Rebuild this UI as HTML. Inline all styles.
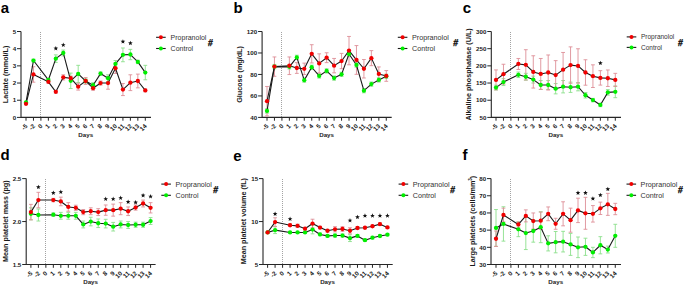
<!DOCTYPE html>
<html><head><meta charset="utf-8"><style>
html,body{margin:0;padding:0;background:#fff;}
body{width:685px;height:287px;overflow:hidden;font-family:"Liberation Sans", sans-serif;}
svg{display:block;}
</style></head><body>
<svg width="685" height="287" viewBox="0 0 685 287" font-family='"Liberation Sans", sans-serif'><g><text x="0.7" y="12.9" font-size="15" font-weight="bold" fill="#000">a</text><line x1="40.5" y1="32" x2="40.5" y2="117.4" stroke="#a3a3a3" stroke-width="1" stroke-dasharray="1,1"/><path d="M21,31.5V117.4H151" fill="none" stroke="#262626" stroke-width="1.1"/><line x1="17" y1="117.4" x2="21" y2="117.4" stroke="#262626" stroke-width="1"/><text x="16.1" y="119.6" font-size="6.2" font-weight="bold" text-anchor="end" fill="#1a1a1a">0</text><line x1="17" y1="100.22" x2="21" y2="100.22" stroke="#262626" stroke-width="1"/><text x="16.1" y="102.42" font-size="6.2" font-weight="bold" text-anchor="end" fill="#1a1a1a">1</text><line x1="17" y1="83.04" x2="21" y2="83.04" stroke="#262626" stroke-width="1"/><text x="16.1" y="85.24" font-size="6.2" font-weight="bold" text-anchor="end" fill="#1a1a1a">2</text><line x1="17" y1="65.86" x2="21" y2="65.86" stroke="#262626" stroke-width="1"/><text x="16.1" y="68.06" font-size="6.2" font-weight="bold" text-anchor="end" fill="#1a1a1a">3</text><line x1="17" y1="48.68" x2="21" y2="48.68" stroke="#262626" stroke-width="1"/><text x="16.1" y="50.88" font-size="6.2" font-weight="bold" text-anchor="end" fill="#1a1a1a">4</text><line x1="17" y1="31.5" x2="21" y2="31.5" stroke="#262626" stroke-width="1"/><text x="16.1" y="33.7" font-size="6.2" font-weight="bold" text-anchor="end" fill="#1a1a1a">5</text><line x1="26" y1="117.4" x2="26" y2="120.7" stroke="#262626" stroke-width="1"/><text x="28" y="126.6" font-size="6.3" font-weight="bold" text-anchor="end" fill="#1a1a1a" transform="rotate(-45 28 126.6)">-5</text><line x1="33.46" y1="117.4" x2="33.46" y2="120.7" stroke="#262626" stroke-width="1"/><text x="35.46" y="126.6" font-size="6.3" font-weight="bold" text-anchor="end" fill="#1a1a1a" transform="rotate(-45 35.46 126.6)">-2</text><line x1="40.91" y1="117.4" x2="40.91" y2="120.7" stroke="#262626" stroke-width="1"/><text x="42.91" y="126.6" font-size="6.3" font-weight="bold" text-anchor="end" fill="#1a1a1a" transform="rotate(-45 42.91 126.6)">0</text><line x1="48.37" y1="117.4" x2="48.37" y2="120.7" stroke="#262626" stroke-width="1"/><text x="50.37" y="126.6" font-size="6.3" font-weight="bold" text-anchor="end" fill="#1a1a1a" transform="rotate(-45 50.37 126.6)">1</text><line x1="55.82" y1="117.4" x2="55.82" y2="120.7" stroke="#262626" stroke-width="1"/><text x="57.82" y="126.6" font-size="6.3" font-weight="bold" text-anchor="end" fill="#1a1a1a" transform="rotate(-45 57.82 126.6)">2</text><line x1="63.28" y1="117.4" x2="63.28" y2="120.7" stroke="#262626" stroke-width="1"/><text x="65.28" y="126.6" font-size="6.3" font-weight="bold" text-anchor="end" fill="#1a1a1a" transform="rotate(-45 65.28 126.6)">3</text><line x1="70.74" y1="117.4" x2="70.74" y2="120.7" stroke="#262626" stroke-width="1"/><text x="72.74" y="126.6" font-size="6.3" font-weight="bold" text-anchor="end" fill="#1a1a1a" transform="rotate(-45 72.74 126.6)">4</text><line x1="78.19" y1="117.4" x2="78.19" y2="120.7" stroke="#262626" stroke-width="1"/><text x="80.19" y="126.6" font-size="6.3" font-weight="bold" text-anchor="end" fill="#1a1a1a" transform="rotate(-45 80.19 126.6)">5</text><line x1="85.65" y1="117.4" x2="85.65" y2="120.7" stroke="#262626" stroke-width="1"/><text x="87.65" y="126.6" font-size="6.3" font-weight="bold" text-anchor="end" fill="#1a1a1a" transform="rotate(-45 87.65 126.6)">6</text><line x1="93.1" y1="117.4" x2="93.1" y2="120.7" stroke="#262626" stroke-width="1"/><text x="95.1" y="126.6" font-size="6.3" font-weight="bold" text-anchor="end" fill="#1a1a1a" transform="rotate(-45 95.1 126.6)">7</text><line x1="100.56" y1="117.4" x2="100.56" y2="120.7" stroke="#262626" stroke-width="1"/><text x="102.56" y="126.6" font-size="6.3" font-weight="bold" text-anchor="end" fill="#1a1a1a" transform="rotate(-45 102.56 126.6)">8</text><line x1="108.02" y1="117.4" x2="108.02" y2="120.7" stroke="#262626" stroke-width="1"/><text x="110.02" y="126.6" font-size="6.3" font-weight="bold" text-anchor="end" fill="#1a1a1a" transform="rotate(-45 110.02 126.6)">9</text><line x1="115.47" y1="117.4" x2="115.47" y2="120.7" stroke="#262626" stroke-width="1"/><text x="117.47" y="126.6" font-size="6.3" font-weight="bold" text-anchor="end" fill="#1a1a1a" transform="rotate(-45 117.47 126.6)">10</text><line x1="122.93" y1="117.4" x2="122.93" y2="120.7" stroke="#262626" stroke-width="1"/><text x="124.93" y="126.6" font-size="6.3" font-weight="bold" text-anchor="end" fill="#1a1a1a" transform="rotate(-45 124.93 126.6)">11</text><line x1="130.38" y1="117.4" x2="130.38" y2="120.7" stroke="#262626" stroke-width="1"/><text x="132.38" y="126.6" font-size="6.3" font-weight="bold" text-anchor="end" fill="#1a1a1a" transform="rotate(-45 132.38 126.6)">12</text><line x1="137.84" y1="117.4" x2="137.84" y2="120.7" stroke="#262626" stroke-width="1"/><text x="139.84" y="126.6" font-size="6.3" font-weight="bold" text-anchor="end" fill="#1a1a1a" transform="rotate(-45 139.84 126.6)">13</text><line x1="145.3" y1="117.4" x2="145.3" y2="120.7" stroke="#262626" stroke-width="1"/><text x="147.3" y="126.6" font-size="6.3" font-weight="bold" text-anchor="end" fill="#1a1a1a" transform="rotate(-45 147.3 126.6)">14</text><text x="8.3" y="74.45" font-size="7.2" font-weight="bold" text-anchor="middle" fill="#1a1a1a" transform="rotate(-90 8.3 74.45)">Lactate (mmol/L)</text><text x="85.7" y="137.2" font-size="6.1" font-weight="bold" text-anchor="middle" fill="#1a1a1a" textLength="14.8" lengthAdjust="spacingAndGlyphs">Days</text><path d="M26,101.59V103.31M24.1,101.59H27.9M24.1,103.31H27.9" stroke="#8ce08c" stroke-width="0.9" fill="none"/><path d="M33.46,59.16V61.91M31.56,59.16H35.36M31.56,61.91H35.36" stroke="#8ce08c" stroke-width="0.9" fill="none"/><path d="M48.37,78.57V81.32M46.47,78.57H50.27M46.47,81.32H50.27" stroke="#8ce08c" stroke-width="0.9" fill="none"/><path d="M55.82,54.86V62.42M53.92,54.86H57.72M53.92,62.42H57.72" stroke="#8ce08c" stroke-width="0.9" fill="none"/><path d="M63.28,50.05V55.9M61.38,50.05H65.18M61.38,55.9H65.18" stroke="#8ce08c" stroke-width="0.9" fill="none"/><path d="M70.74,73.08V88.54M68.84,73.08H72.64M68.84,88.54H72.64" stroke="#8ce08c" stroke-width="0.9" fill="none"/><path d="M78.19,65.34V82.52M76.29,65.34H80.09M76.29,82.52H80.09" stroke="#8ce08c" stroke-width="0.9" fill="none"/><path d="M85.65,78.92V83.04M83.75,78.92H87.55M83.75,83.04H87.55" stroke="#8ce08c" stroke-width="0.9" fill="none"/><path d="M93.1,82.7V87.85M91.2,82.7H95M91.2,87.85H95" stroke="#8ce08c" stroke-width="0.9" fill="none"/><path d="M100.56,71.87V75.31M98.66,71.87H102.46M98.66,75.31H102.46" stroke="#8ce08c" stroke-width="0.9" fill="none"/><path d="M108.02,74.79V81.67M106.12,74.79H109.92M106.12,81.67H109.92" stroke="#8ce08c" stroke-width="0.9" fill="none"/><path d="M115.47,60.53V67.41M113.57,60.53H117.37M113.57,67.41H117.37" stroke="#8ce08c" stroke-width="0.9" fill="none"/><path d="M122.93,47.99V61.74M121.03,47.99H124.83M121.03,61.74H124.83" stroke="#8ce08c" stroke-width="0.9" fill="none"/><path d="M130.38,49.37V59.68M128.48,49.37H132.28M128.48,59.68H132.28" stroke="#8ce08c" stroke-width="0.9" fill="none"/><path d="M137.84,60.19V63.63M135.94,60.19H139.74M135.94,63.63H139.74" stroke="#8ce08c" stroke-width="0.9" fill="none"/><path d="M145.3,65.34V79.78M143.4,65.34H147.2M143.4,79.78H147.2" stroke="#8ce08c" stroke-width="0.9" fill="none"/><path d="M26,102.97V104.69M24.1,102.97H27.9M24.1,104.69H27.9" stroke="#de8f97" stroke-width="0.9" fill="none"/><path d="M33.46,66.72V82.18M31.56,66.72H35.36M31.56,82.18H35.36" stroke="#de8f97" stroke-width="0.9" fill="none"/><path d="M48.37,80.46V83.21M46.47,80.46H50.27M46.47,83.21H50.27" stroke="#de8f97" stroke-width="0.9" fill="none"/><path d="M55.82,90.43V93.18M53.92,90.43H57.72M53.92,93.18H57.72" stroke="#de8f97" stroke-width="0.9" fill="none"/><path d="M63.28,74.79V79.95M61.38,74.79H65.18M61.38,79.95H65.18" stroke="#de8f97" stroke-width="0.9" fill="none"/><path d="M70.74,76.17V80.29M68.84,76.17H72.64M68.84,80.29H72.64" stroke="#de8f97" stroke-width="0.9" fill="none"/><path d="M78.19,83.21V90.08M76.29,83.21H80.09M76.29,90.08H80.09" stroke="#de8f97" stroke-width="0.9" fill="none"/><path d="M85.65,77.54V84.41M83.75,77.54H87.55M83.75,84.41H87.55" stroke="#de8f97" stroke-width="0.9" fill="none"/><path d="M93.1,86.13V90.26M91.2,86.13H95M91.2,90.26H95" stroke="#de8f97" stroke-width="0.9" fill="none"/><path d="M100.56,80.98V85.1M98.66,80.98H102.46M98.66,85.1H102.46" stroke="#de8f97" stroke-width="0.9" fill="none"/><path d="M108.02,76.86V89.22M106.12,76.86H109.92M106.12,89.22H109.92" stroke="#de8f97" stroke-width="0.9" fill="none"/><path d="M115.47,63.11V73.42M113.57,63.11H117.37M113.57,73.42H117.37" stroke="#de8f97" stroke-width="0.9" fill="none"/><path d="M122.93,83.56V95.58M121.03,83.56H124.83M121.03,95.58H124.83" stroke="#de8f97" stroke-width="0.9" fill="none"/><path d="M130.38,74.79V90.6M128.48,74.79H132.28M128.48,90.6H132.28" stroke="#de8f97" stroke-width="0.9" fill="none"/><path d="M137.84,74.11V87.85M135.94,74.11H139.74M135.94,87.85H139.74" stroke="#de8f97" stroke-width="0.9" fill="none"/><path d="M145.3,89.05V91.8M143.4,89.05H147.2M143.4,91.8H147.2" stroke="#de8f97" stroke-width="0.9" fill="none"/><path d="M26,102.45 L33.46,60.53 L48.37,79.95 L55.82,58.64 L63.28,52.98 L70.74,80.81 L78.19,73.93 L85.65,80.98 L93.1,85.27 L100.56,73.59 L108.02,78.23 L115.47,63.97 L122.93,54.86 L130.38,54.52 L137.84,61.91 L145.3,72.56" fill="none" stroke="#1a1a1a" stroke-width="1.1" stroke-linejoin="round"/><path d="M26,103.83 L33.46,74.45 L48.37,81.84 L55.82,91.8 L63.28,77.37 L70.74,78.23 L78.19,86.65 L85.65,80.98 L93.1,88.19 L100.56,83.04 L108.02,83.04 L115.47,68.27 L122.93,89.57 L130.38,82.7 L137.84,80.98 L145.3,90.43" fill="none" stroke="#1a1a1a" stroke-width="1.1" stroke-linejoin="round"/><circle cx="26" cy="102.45" r="2.15" fill="#00ee00"/><circle cx="33.46" cy="60.53" r="2.15" fill="#00ee00"/><circle cx="48.37" cy="79.95" r="2.15" fill="#00ee00"/><circle cx="55.82" cy="58.64" r="2.15" fill="#00ee00"/><circle cx="63.28" cy="52.98" r="2.15" fill="#00ee00"/><circle cx="70.74" cy="80.81" r="2.15" fill="#00ee00"/><circle cx="78.19" cy="73.93" r="2.15" fill="#00ee00"/><circle cx="85.65" cy="80.98" r="2.15" fill="#00ee00"/><circle cx="93.1" cy="85.27" r="2.15" fill="#00ee00"/><circle cx="100.56" cy="73.59" r="2.15" fill="#00ee00"/><circle cx="108.02" cy="78.23" r="2.15" fill="#00ee00"/><circle cx="115.47" cy="63.97" r="2.15" fill="#00ee00"/><circle cx="122.93" cy="54.86" r="2.15" fill="#00ee00"/><circle cx="130.38" cy="54.52" r="2.15" fill="#00ee00"/><circle cx="137.84" cy="61.91" r="2.15" fill="#00ee00"/><circle cx="145.3" cy="72.56" r="2.15" fill="#00ee00"/><circle cx="26" cy="103.83" r="2.15" fill="#f00000"/><circle cx="33.46" cy="74.45" r="2.15" fill="#f00000"/><circle cx="48.37" cy="81.84" r="2.15" fill="#f00000"/><circle cx="55.82" cy="91.8" r="2.15" fill="#f00000"/><circle cx="63.28" cy="77.37" r="2.15" fill="#f00000"/><circle cx="70.74" cy="78.23" r="2.15" fill="#f00000"/><circle cx="78.19" cy="86.65" r="2.15" fill="#f00000"/><circle cx="85.65" cy="80.98" r="2.15" fill="#f00000"/><circle cx="93.1" cy="88.19" r="2.15" fill="#f00000"/><circle cx="100.56" cy="83.04" r="2.15" fill="#f00000"/><circle cx="108.02" cy="83.04" r="2.15" fill="#f00000"/><circle cx="115.47" cy="68.27" r="2.15" fill="#f00000"/><circle cx="122.93" cy="89.57" r="2.15" fill="#f00000"/><circle cx="130.38" cy="82.7" r="2.15" fill="#f00000"/><circle cx="137.84" cy="80.98" r="2.15" fill="#f00000"/><circle cx="145.3" cy="90.43" r="2.15" fill="#f00000"/><polygon points="55.82,45.95 56.44,47.55 58.15,47.64 56.82,48.72 57.26,50.38 55.82,49.45 54.38,50.38 54.83,48.72 53.49,47.64 55.21,47.55" fill="#111"/><polygon points="63.28,42.55 63.9,44.15 65.61,44.24 64.28,45.32 64.72,46.98 63.28,46.05 61.84,46.98 62.28,45.32 60.95,44.24 62.66,44.15" fill="#111"/><polygon points="122.93,39.15 123.55,40.75 125.26,40.84 123.93,41.92 124.37,43.58 122.93,42.65 121.49,43.58 121.93,41.92 120.6,40.84 122.31,40.75" fill="#111"/><polygon points="130.38,40.75 131,42.35 132.71,42.44 131.38,43.52 131.82,45.18 130.38,44.25 128.94,45.18 129.39,43.52 128.05,42.44 129.77,42.35" fill="#111"/><line x1="156.1" y1="37.3" x2="165.7" y2="37.3" stroke="#1a1a1a" stroke-width="1.1"/><circle cx="160.9" cy="37.3" r="2" fill="#f00000"/><text x="170.6" y="39.8" font-size="7.0" fill="#333">Propranolol</text><line x1="156.1" y1="48.5" x2="165.7" y2="48.5" stroke="#1a1a1a" stroke-width="1.1"/><circle cx="160.9" cy="48.5" r="2" fill="#00ee00"/><text x="170.6" y="51" font-size="7.0" fill="#333">Control</text><text transform="translate(207.7,45.9) scale(0.85,1) skewX(-6)" font-size="10.0" font-weight="bold" fill="#111" stroke="#111" stroke-width="0.35">#</text></g>
<g><text x="233.4" y="13.1" font-size="15" font-weight="bold" fill="#000">b</text><line x1="281.5" y1="32" x2="281.5" y2="117.4" stroke="#a3a3a3" stroke-width="1" stroke-dasharray="1,1"/><path d="M262.1,31.5V117.4H391.7" fill="none" stroke="#262626" stroke-width="1.1"/><line x1="258.1" y1="117.4" x2="262.1" y2="117.4" stroke="#262626" stroke-width="1"/><text x="257.2" y="119.6" font-size="6.2" font-weight="bold" text-anchor="end" fill="#1a1a1a">40</text><line x1="258.1" y1="95.93" x2="262.1" y2="95.93" stroke="#262626" stroke-width="1"/><text x="257.2" y="98.13" font-size="6.2" font-weight="bold" text-anchor="end" fill="#1a1a1a">60</text><line x1="258.1" y1="74.45" x2="262.1" y2="74.45" stroke="#262626" stroke-width="1"/><text x="257.2" y="76.65" font-size="6.2" font-weight="bold" text-anchor="end" fill="#1a1a1a">80</text><line x1="258.1" y1="52.98" x2="262.1" y2="52.98" stroke="#262626" stroke-width="1"/><text x="257.2" y="55.18" font-size="6.2" font-weight="bold" text-anchor="end" fill="#1a1a1a">100</text><line x1="258.1" y1="31.5" x2="262.1" y2="31.5" stroke="#262626" stroke-width="1"/><text x="257.2" y="33.7" font-size="6.2" font-weight="bold" text-anchor="end" fill="#1a1a1a">120</text><line x1="267" y1="117.4" x2="267" y2="120.7" stroke="#262626" stroke-width="1"/><text x="269" y="126.6" font-size="6.3" font-weight="bold" text-anchor="end" fill="#1a1a1a" transform="rotate(-45 269 126.6)">-5</text><line x1="274.45" y1="117.4" x2="274.45" y2="120.7" stroke="#262626" stroke-width="1"/><text x="276.45" y="126.6" font-size="6.3" font-weight="bold" text-anchor="end" fill="#1a1a1a" transform="rotate(-45 276.45 126.6)">-2</text><line x1="281.91" y1="117.4" x2="281.91" y2="120.7" stroke="#262626" stroke-width="1"/><text x="283.91" y="126.6" font-size="6.3" font-weight="bold" text-anchor="end" fill="#1a1a1a" transform="rotate(-45 283.91 126.6)">0</text><line x1="289.37" y1="117.4" x2="289.37" y2="120.7" stroke="#262626" stroke-width="1"/><text x="291.37" y="126.6" font-size="6.3" font-weight="bold" text-anchor="end" fill="#1a1a1a" transform="rotate(-45 291.37 126.6)">1</text><line x1="296.82" y1="117.4" x2="296.82" y2="120.7" stroke="#262626" stroke-width="1"/><text x="298.82" y="126.6" font-size="6.3" font-weight="bold" text-anchor="end" fill="#1a1a1a" transform="rotate(-45 298.82 126.6)">2</text><line x1="304.27" y1="117.4" x2="304.27" y2="120.7" stroke="#262626" stroke-width="1"/><text x="306.27" y="126.6" font-size="6.3" font-weight="bold" text-anchor="end" fill="#1a1a1a" transform="rotate(-45 306.27 126.6)">3</text><line x1="311.73" y1="117.4" x2="311.73" y2="120.7" stroke="#262626" stroke-width="1"/><text x="313.73" y="126.6" font-size="6.3" font-weight="bold" text-anchor="end" fill="#1a1a1a" transform="rotate(-45 313.73 126.6)">4</text><line x1="319.19" y1="117.4" x2="319.19" y2="120.7" stroke="#262626" stroke-width="1"/><text x="321.19" y="126.6" font-size="6.3" font-weight="bold" text-anchor="end" fill="#1a1a1a" transform="rotate(-45 321.19 126.6)">5</text><line x1="326.64" y1="117.4" x2="326.64" y2="120.7" stroke="#262626" stroke-width="1"/><text x="328.64" y="126.6" font-size="6.3" font-weight="bold" text-anchor="end" fill="#1a1a1a" transform="rotate(-45 328.64 126.6)">6</text><line x1="334.1" y1="117.4" x2="334.1" y2="120.7" stroke="#262626" stroke-width="1"/><text x="336.1" y="126.6" font-size="6.3" font-weight="bold" text-anchor="end" fill="#1a1a1a" transform="rotate(-45 336.1 126.6)">7</text><line x1="341.55" y1="117.4" x2="341.55" y2="120.7" stroke="#262626" stroke-width="1"/><text x="343.55" y="126.6" font-size="6.3" font-weight="bold" text-anchor="end" fill="#1a1a1a" transform="rotate(-45 343.55 126.6)">8</text><line x1="349" y1="117.4" x2="349" y2="120.7" stroke="#262626" stroke-width="1"/><text x="351" y="126.6" font-size="6.3" font-weight="bold" text-anchor="end" fill="#1a1a1a" transform="rotate(-45 351 126.6)">9</text><line x1="356.46" y1="117.4" x2="356.46" y2="120.7" stroke="#262626" stroke-width="1"/><text x="358.46" y="126.6" font-size="6.3" font-weight="bold" text-anchor="end" fill="#1a1a1a" transform="rotate(-45 358.46 126.6)">10</text><line x1="363.92" y1="117.4" x2="363.92" y2="120.7" stroke="#262626" stroke-width="1"/><text x="365.92" y="126.6" font-size="6.3" font-weight="bold" text-anchor="end" fill="#1a1a1a" transform="rotate(-45 365.92 126.6)">11</text><line x1="371.37" y1="117.4" x2="371.37" y2="120.7" stroke="#262626" stroke-width="1"/><text x="373.37" y="126.6" font-size="6.3" font-weight="bold" text-anchor="end" fill="#1a1a1a" transform="rotate(-45 373.37 126.6)">12</text><line x1="378.82" y1="117.4" x2="378.82" y2="120.7" stroke="#262626" stroke-width="1"/><text x="380.82" y="126.6" font-size="6.3" font-weight="bold" text-anchor="end" fill="#1a1a1a" transform="rotate(-45 380.82 126.6)">13</text><line x1="386.28" y1="117.4" x2="386.28" y2="120.7" stroke="#262626" stroke-width="1"/><text x="388.28" y="126.6" font-size="6.3" font-weight="bold" text-anchor="end" fill="#1a1a1a" transform="rotate(-45 388.28 126.6)">14</text><text x="242.1" y="74.45" font-size="7.2" font-weight="bold" text-anchor="middle" fill="#1a1a1a" transform="rotate(-90 242.1 74.45)">Glucose (mg/dL)</text><text x="326.6" y="137.2" font-size="6.1" font-weight="bold" text-anchor="middle" fill="#1a1a1a" textLength="14.8" lengthAdjust="spacingAndGlyphs">Days</text><path d="M267,108.81V113.11M265.1,108.81H268.9M265.1,113.11H268.9" stroke="#8ce08c" stroke-width="0.9" fill="none"/><path d="M274.45,64.46V68.76M272.56,64.46H276.35M272.56,68.76H276.35" stroke="#8ce08c" stroke-width="0.9" fill="none"/><path d="M289.37,64.68V68.97M287.47,64.68H291.26M287.47,68.97H291.26" stroke="#8ce08c" stroke-width="0.9" fill="none"/><path d="M296.82,55.23V59.52M294.92,55.23H298.72M294.92,59.52H298.72" stroke="#8ce08c" stroke-width="0.9" fill="none"/><path d="M304.27,77.99V82.29M302.38,77.99H306.17M302.38,82.29H306.17" stroke="#8ce08c" stroke-width="0.9" fill="none"/><path d="M311.73,65.11V69.4M309.83,65.11H313.63M309.83,69.4H313.63" stroke="#8ce08c" stroke-width="0.9" fill="none"/><path d="M319.19,73.81V78.1M317.29,73.81H321.08M317.29,78.1H321.08" stroke="#8ce08c" stroke-width="0.9" fill="none"/><path d="M326.64,68.76V73.05M324.74,68.76H328.54M324.74,73.05H328.54" stroke="#8ce08c" stroke-width="0.9" fill="none"/><path d="M334.1,75.95V80.25M332.2,75.95H336M332.2,80.25H336" stroke="#8ce08c" stroke-width="0.9" fill="none"/><path d="M341.55,72.2V76.49M339.65,72.2H343.45M339.65,76.49H343.45" stroke="#8ce08c" stroke-width="0.9" fill="none"/><path d="M349,51.9V56.2M347.11,51.9H350.9M347.11,56.2H350.9" stroke="#8ce08c" stroke-width="0.9" fill="none"/><path d="M356.46,62.85V67.15M354.56,62.85H358.36M354.56,67.15H358.36" stroke="#8ce08c" stroke-width="0.9" fill="none"/><path d="M363.92,88.52V92.81M362.02,88.52H365.81M362.02,92.81H365.81" stroke="#8ce08c" stroke-width="0.9" fill="none"/><path d="M371.37,81.97V86.26M369.47,81.97H373.27M369.47,86.26H373.27" stroke="#8ce08c" stroke-width="0.9" fill="none"/><path d="M378.82,77.78V82.07M376.93,77.78H380.72M376.93,82.07H380.72" stroke="#8ce08c" stroke-width="0.9" fill="none"/><path d="M386.28,74.13V78.42M384.38,74.13H388.18M384.38,78.42H388.18" stroke="#8ce08c" stroke-width="0.9" fill="none"/><path d="M267,86.48V115.9M265.1,86.48H268.9M265.1,115.9H268.9" stroke="#de8f97" stroke-width="0.9" fill="none"/><path d="M274.45,56.95V76.28M272.56,56.95H276.35M272.56,76.28H276.35" stroke="#de8f97" stroke-width="0.9" fill="none"/><path d="M289.37,56.95V74.56M287.47,56.95H291.26M287.47,74.56H291.26" stroke="#de8f97" stroke-width="0.9" fill="none"/><path d="M296.82,62.64V73.38M294.92,62.64H298.72M294.92,73.38H298.72" stroke="#de8f97" stroke-width="0.9" fill="none"/><path d="M304.27,63.12V74.5M302.38,63.12H306.17M302.38,74.5H306.17" stroke="#de8f97" stroke-width="0.9" fill="none"/><path d="M311.73,44.71V62.96M309.83,44.71H313.63M309.83,62.96H313.63" stroke="#de8f97" stroke-width="0.9" fill="none"/><path d="M319.19,53.83V72.95M317.29,53.83H321.08M317.29,72.95H321.08" stroke="#de8f97" stroke-width="0.9" fill="none"/><path d="M326.64,52.76V62.64M324.74,52.76H328.54M324.74,62.64H328.54" stroke="#de8f97" stroke-width="0.9" fill="none"/><path d="M334.1,58.45V72.84M332.2,58.45H336M332.2,72.84H336" stroke="#de8f97" stroke-width="0.9" fill="none"/><path d="M341.55,53.4V68.65M339.65,53.4H343.45M339.65,68.65H343.45" stroke="#de8f97" stroke-width="0.9" fill="none"/><path d="M349,36.44V64.79M347.11,36.44H350.9M347.11,64.79H350.9" stroke="#de8f97" stroke-width="0.9" fill="none"/><path d="M356.46,45.57V74.34M354.56,45.57H358.36M354.56,74.34H358.36" stroke="#de8f97" stroke-width="0.9" fill="none"/><path d="M363.92,59.52V77.99M362.02,59.52H365.81M362.02,77.99H365.81" stroke="#de8f97" stroke-width="0.9" fill="none"/><path d="M371.37,50.61V65.65M369.47,50.61H373.27M369.47,65.65H373.27" stroke="#de8f97" stroke-width="0.9" fill="none"/><path d="M378.82,66.93V80.89M376.93,66.93H380.72M376.93,80.89H380.72" stroke="#de8f97" stroke-width="0.9" fill="none"/><path d="M386.28,70.58V81.32M384.38,70.58H388.18M384.38,81.32H388.18" stroke="#de8f97" stroke-width="0.9" fill="none"/><path d="M267,110.96 L274.45,66.61 L289.37,66.83 L296.82,57.38 L304.27,80.14 L311.73,67.26 L319.19,75.95 L326.64,70.91 L334.1,78.1 L341.55,74.34 L349,54.05 L356.46,65 L363.92,90.66 L371.37,84.11 L378.82,79.93 L386.28,76.28" fill="none" stroke="#1a1a1a" stroke-width="1.1" stroke-linejoin="round"/><path d="M267,101.19 L274.45,66.61 L289.37,65.75 L296.82,68.01 L304.27,68.81 L311.73,53.83 L319.19,63.39 L326.64,57.7 L334.1,65.65 L341.55,61.03 L349,50.61 L356.46,59.95 L363.92,68.76 L371.37,58.13 L378.82,73.91 L386.28,75.95" fill="none" stroke="#1a1a1a" stroke-width="1.1" stroke-linejoin="round"/><circle cx="267" cy="110.96" r="2.15" fill="#00ee00"/><circle cx="274.45" cy="66.61" r="2.15" fill="#00ee00"/><circle cx="289.37" cy="66.83" r="2.15" fill="#00ee00"/><circle cx="296.82" cy="57.38" r="2.15" fill="#00ee00"/><circle cx="304.27" cy="80.14" r="2.15" fill="#00ee00"/><circle cx="311.73" cy="67.26" r="2.15" fill="#00ee00"/><circle cx="319.19" cy="75.95" r="2.15" fill="#00ee00"/><circle cx="326.64" cy="70.91" r="2.15" fill="#00ee00"/><circle cx="334.1" cy="78.1" r="2.15" fill="#00ee00"/><circle cx="341.55" cy="74.34" r="2.15" fill="#00ee00"/><circle cx="349" cy="54.05" r="2.15" fill="#00ee00"/><circle cx="356.46" cy="65" r="2.15" fill="#00ee00"/><circle cx="363.92" cy="90.66" r="2.15" fill="#00ee00"/><circle cx="371.37" cy="84.11" r="2.15" fill="#00ee00"/><circle cx="378.82" cy="79.93" r="2.15" fill="#00ee00"/><circle cx="386.28" cy="76.28" r="2.15" fill="#00ee00"/><circle cx="267" cy="101.19" r="2.15" fill="#f00000"/><circle cx="274.45" cy="66.61" r="2.15" fill="#f00000"/><circle cx="289.37" cy="65.75" r="2.15" fill="#f00000"/><circle cx="296.82" cy="68.01" r="2.15" fill="#f00000"/><circle cx="304.27" cy="68.81" r="2.15" fill="#f00000"/><circle cx="311.73" cy="53.83" r="2.15" fill="#f00000"/><circle cx="319.19" cy="63.39" r="2.15" fill="#f00000"/><circle cx="326.64" cy="57.7" r="2.15" fill="#f00000"/><circle cx="334.1" cy="65.65" r="2.15" fill="#f00000"/><circle cx="341.55" cy="61.03" r="2.15" fill="#f00000"/><circle cx="349" cy="50.61" r="2.15" fill="#f00000"/><circle cx="356.46" cy="59.95" r="2.15" fill="#f00000"/><circle cx="363.92" cy="68.76" r="2.15" fill="#f00000"/><circle cx="371.37" cy="58.13" r="2.15" fill="#f00000"/><circle cx="378.82" cy="73.91" r="2.15" fill="#f00000"/><circle cx="386.28" cy="75.95" r="2.15" fill="#f00000"/><line x1="397.8" y1="37.3" x2="407.4" y2="37.3" stroke="#1a1a1a" stroke-width="1.1"/><circle cx="402.6" cy="37.3" r="2" fill="#f00000"/><text x="412" y="39.8" font-size="7.2" fill="#333">Propranolol</text><line x1="397.8" y1="48.5" x2="407.4" y2="48.5" stroke="#1a1a1a" stroke-width="1.1"/><circle cx="402.6" cy="48.5" r="2" fill="#00ee00"/><text x="412" y="51" font-size="7.2" fill="#333">Control</text><text transform="translate(453,45.7) scale(0.85,1) skewX(-6)" font-size="10.2" font-weight="bold" fill="#111" stroke="#111" stroke-width="0.35">#</text></g>
<g><text x="462.8" y="13.1" font-size="15" font-weight="bold" fill="#000">c</text><line x1="510.5" y1="32" x2="510.5" y2="117.4" stroke="#a3a3a3" stroke-width="1" stroke-dasharray="1,1"/><path d="M491.3,31.5V117.4H621" fill="none" stroke="#262626" stroke-width="1.1"/><line x1="487.3" y1="117.4" x2="491.3" y2="117.4" stroke="#262626" stroke-width="1"/><text x="486.4" y="119.6" font-size="6.2" font-weight="bold" text-anchor="end" fill="#1a1a1a">50</text><line x1="487.3" y1="100.22" x2="491.3" y2="100.22" stroke="#262626" stroke-width="1"/><text x="486.4" y="102.42" font-size="6.2" font-weight="bold" text-anchor="end" fill="#1a1a1a">100</text><line x1="487.3" y1="83.04" x2="491.3" y2="83.04" stroke="#262626" stroke-width="1"/><text x="486.4" y="85.24" font-size="6.2" font-weight="bold" text-anchor="end" fill="#1a1a1a">150</text><line x1="487.3" y1="65.86" x2="491.3" y2="65.86" stroke="#262626" stroke-width="1"/><text x="486.4" y="68.06" font-size="6.2" font-weight="bold" text-anchor="end" fill="#1a1a1a">200</text><line x1="487.3" y1="48.68" x2="491.3" y2="48.68" stroke="#262626" stroke-width="1"/><text x="486.4" y="50.88" font-size="6.2" font-weight="bold" text-anchor="end" fill="#1a1a1a">250</text><line x1="487.3" y1="31.5" x2="491.3" y2="31.5" stroke="#262626" stroke-width="1"/><text x="486.4" y="33.7" font-size="6.2" font-weight="bold" text-anchor="end" fill="#1a1a1a">300</text><line x1="496" y1="117.4" x2="496" y2="120.7" stroke="#262626" stroke-width="1"/><text x="498" y="126.6" font-size="6.3" font-weight="bold" text-anchor="end" fill="#1a1a1a" transform="rotate(-45 498 126.6)">-5</text><line x1="503.46" y1="117.4" x2="503.46" y2="120.7" stroke="#262626" stroke-width="1"/><text x="505.46" y="126.6" font-size="6.3" font-weight="bold" text-anchor="end" fill="#1a1a1a" transform="rotate(-45 505.46 126.6)">-2</text><line x1="510.91" y1="117.4" x2="510.91" y2="120.7" stroke="#262626" stroke-width="1"/><text x="512.91" y="126.6" font-size="6.3" font-weight="bold" text-anchor="end" fill="#1a1a1a" transform="rotate(-45 512.91 126.6)">0</text><line x1="518.37" y1="117.4" x2="518.37" y2="120.7" stroke="#262626" stroke-width="1"/><text x="520.37" y="126.6" font-size="6.3" font-weight="bold" text-anchor="end" fill="#1a1a1a" transform="rotate(-45 520.37 126.6)">1</text><line x1="525.82" y1="117.4" x2="525.82" y2="120.7" stroke="#262626" stroke-width="1"/><text x="527.82" y="126.6" font-size="6.3" font-weight="bold" text-anchor="end" fill="#1a1a1a" transform="rotate(-45 527.82 126.6)">2</text><line x1="533.28" y1="117.4" x2="533.28" y2="120.7" stroke="#262626" stroke-width="1"/><text x="535.28" y="126.6" font-size="6.3" font-weight="bold" text-anchor="end" fill="#1a1a1a" transform="rotate(-45 535.28 126.6)">3</text><line x1="540.74" y1="117.4" x2="540.74" y2="120.7" stroke="#262626" stroke-width="1"/><text x="542.74" y="126.6" font-size="6.3" font-weight="bold" text-anchor="end" fill="#1a1a1a" transform="rotate(-45 542.74 126.6)">4</text><line x1="548.19" y1="117.4" x2="548.19" y2="120.7" stroke="#262626" stroke-width="1"/><text x="550.19" y="126.6" font-size="6.3" font-weight="bold" text-anchor="end" fill="#1a1a1a" transform="rotate(-45 550.19 126.6)">5</text><line x1="555.65" y1="117.4" x2="555.65" y2="120.7" stroke="#262626" stroke-width="1"/><text x="557.65" y="126.6" font-size="6.3" font-weight="bold" text-anchor="end" fill="#1a1a1a" transform="rotate(-45 557.65 126.6)">6</text><line x1="563.1" y1="117.4" x2="563.1" y2="120.7" stroke="#262626" stroke-width="1"/><text x="565.1" y="126.6" font-size="6.3" font-weight="bold" text-anchor="end" fill="#1a1a1a" transform="rotate(-45 565.1 126.6)">7</text><line x1="570.56" y1="117.4" x2="570.56" y2="120.7" stroke="#262626" stroke-width="1"/><text x="572.56" y="126.6" font-size="6.3" font-weight="bold" text-anchor="end" fill="#1a1a1a" transform="rotate(-45 572.56 126.6)">8</text><line x1="578.02" y1="117.4" x2="578.02" y2="120.7" stroke="#262626" stroke-width="1"/><text x="580.02" y="126.6" font-size="6.3" font-weight="bold" text-anchor="end" fill="#1a1a1a" transform="rotate(-45 580.02 126.6)">9</text><line x1="585.47" y1="117.4" x2="585.47" y2="120.7" stroke="#262626" stroke-width="1"/><text x="587.47" y="126.6" font-size="6.3" font-weight="bold" text-anchor="end" fill="#1a1a1a" transform="rotate(-45 587.47 126.6)">10</text><line x1="592.93" y1="117.4" x2="592.93" y2="120.7" stroke="#262626" stroke-width="1"/><text x="594.93" y="126.6" font-size="6.3" font-weight="bold" text-anchor="end" fill="#1a1a1a" transform="rotate(-45 594.93 126.6)">11</text><line x1="600.38" y1="117.4" x2="600.38" y2="120.7" stroke="#262626" stroke-width="1"/><text x="602.38" y="126.6" font-size="6.3" font-weight="bold" text-anchor="end" fill="#1a1a1a" transform="rotate(-45 602.38 126.6)">12</text><line x1="607.84" y1="117.4" x2="607.84" y2="120.7" stroke="#262626" stroke-width="1"/><text x="609.84" y="126.6" font-size="6.3" font-weight="bold" text-anchor="end" fill="#1a1a1a" transform="rotate(-45 609.84 126.6)">13</text><line x1="615.3" y1="117.4" x2="615.3" y2="120.7" stroke="#262626" stroke-width="1"/><text x="617.3" y="126.6" font-size="6.3" font-weight="bold" text-anchor="end" fill="#1a1a1a" transform="rotate(-45 617.3 126.6)">14</text><text x="471" y="74.45" font-size="7.2" font-weight="bold" text-anchor="middle" fill="#1a1a1a" transform="rotate(-90 471 74.45)">Alkaline phosphatase (U/L)</text><text x="555.85" y="137.2" font-size="6.1" font-weight="bold" text-anchor="middle" fill="#1a1a1a" textLength="14.8" lengthAdjust="spacingAndGlyphs">Days</text><path d="M496,85.17V89.98M494.1,85.17H497.9M494.1,89.98H497.9" stroke="#8ce08c" stroke-width="0.9" fill="none"/><path d="M503.46,78.68V85.55M501.56,78.68H505.36M501.56,85.55H505.36" stroke="#8ce08c" stroke-width="0.9" fill="none"/><path d="M518.37,72.04V77.54M516.47,72.04H520.27M516.47,77.54H520.27" stroke="#8ce08c" stroke-width="0.9" fill="none"/><path d="M525.82,73.32V80.19M523.92,73.32H527.72M523.92,80.19H527.72" stroke="#8ce08c" stroke-width="0.9" fill="none"/><path d="M533.28,76.17V83.04M531.38,76.17H535.18M531.38,83.04H535.18" stroke="#8ce08c" stroke-width="0.9" fill="none"/><path d="M540.74,80.53V89.47M538.84,80.53H542.64M538.84,89.47H542.64" stroke="#8ce08c" stroke-width="0.9" fill="none"/><path d="M548.19,80.53V89.47M546.29,80.53H550.09M546.29,89.47H550.09" stroke="#8ce08c" stroke-width="0.9" fill="none"/><path d="M555.65,83.56V93.86M553.75,83.56H557.55M553.75,93.86H557.55" stroke="#8ce08c" stroke-width="0.9" fill="none"/><path d="M563.1,80.53V92.9M561.2,80.53H565M561.2,92.9H565" stroke="#8ce08c" stroke-width="0.9" fill="none"/><path d="M570.56,82.11V92.42M568.66,82.11H572.46M568.66,92.42H572.46" stroke="#8ce08c" stroke-width="0.9" fill="none"/><path d="M578.02,82.59V90.84M576.12,82.59H579.92M576.12,90.84H579.92" stroke="#8ce08c" stroke-width="0.9" fill="none"/><path d="M585.47,92.49V97.99M583.57,92.49H587.37M583.57,97.99H587.37" stroke="#8ce08c" stroke-width="0.9" fill="none"/><path d="M592.93,98.36V101.8M591.03,98.36H594.83M591.03,101.8H594.83" stroke="#8ce08c" stroke-width="0.9" fill="none"/><path d="M600.38,103.21V106.65M598.48,103.21H602.28M598.48,106.65H602.28" stroke="#8ce08c" stroke-width="0.9" fill="none"/><path d="M607.84,89.64V95.13M605.94,89.64H609.74M605.94,95.13H609.74" stroke="#8ce08c" stroke-width="0.9" fill="none"/><path d="M615.3,85.99V97.68M613.4,85.99H617.2M613.4,97.68H617.2" stroke="#8ce08c" stroke-width="0.9" fill="none"/><path d="M496,69.91V89.84M494.1,69.91H497.9M494.1,89.84H497.9" stroke="#de8f97" stroke-width="0.9" fill="none"/><path d="M503.46,64.25V84.17M501.56,64.25H505.36M501.56,84.17H505.36" stroke="#de8f97" stroke-width="0.9" fill="none"/><path d="M518.37,58.47V69.47M516.47,58.47H520.27M516.47,69.47H520.27" stroke="#de8f97" stroke-width="0.9" fill="none"/><path d="M525.82,49.71V79.95M523.92,49.71H527.72M523.92,79.95H527.72" stroke="#de8f97" stroke-width="0.9" fill="none"/><path d="M533.28,55.76V88.06M531.38,55.76H535.18M531.38,88.06H535.18" stroke="#de8f97" stroke-width="0.9" fill="none"/><path d="M540.74,58.47V89.4M538.84,58.47H542.64M538.84,89.4H542.64" stroke="#de8f97" stroke-width="0.9" fill="none"/><path d="M548.19,54.97V90.02M546.29,54.97H550.09M546.29,90.02H550.09" stroke="#de8f97" stroke-width="0.9" fill="none"/><path d="M555.65,60.64V89.5M553.75,60.64H557.55M553.75,89.5H557.55" stroke="#de8f97" stroke-width="0.9" fill="none"/><path d="M563.1,52.46V86.82M561.2,52.46H565M561.2,86.82H565" stroke="#de8f97" stroke-width="0.9" fill="none"/><path d="M570.56,46.89V83.31M568.66,46.89H572.46M568.66,83.31H572.46" stroke="#de8f97" stroke-width="0.9" fill="none"/><path d="M578.02,48.78V83.14M576.12,48.78H579.92M576.12,83.14H579.92" stroke="#de8f97" stroke-width="0.9" fill="none"/><path d="M585.47,59.78V85.2M583.57,59.78H587.37M583.57,85.2H587.37" stroke="#de8f97" stroke-width="0.9" fill="none"/><path d="M592.93,64.83V87.51M591.03,64.83H594.83M591.03,87.51H594.83" stroke="#de8f97" stroke-width="0.9" fill="none"/><path d="M600.38,70.67V85.1M598.48,70.67H602.28M598.48,85.1H602.28" stroke="#de8f97" stroke-width="0.9" fill="none"/><path d="M607.84,69.98V86.48M605.94,69.98H609.74M605.94,86.48H609.74" stroke="#de8f97" stroke-width="0.9" fill="none"/><path d="M615.3,73.35V86.41M613.4,73.35H617.2M613.4,86.41H617.2" stroke="#de8f97" stroke-width="0.9" fill="none"/><path d="M496,87.58 L503.46,82.11 L518.37,74.79 L525.82,76.75 L533.28,79.6 L540.74,85 L548.19,85 L555.65,88.71 L563.1,86.72 L570.56,87.27 L578.02,86.72 L585.47,95.24 L592.93,100.08 L600.38,104.93 L607.84,92.39 L615.3,91.84" fill="none" stroke="#1a1a1a" stroke-width="1.1" stroke-linejoin="round"/><path d="M496,79.88 L503.46,74.21 L518.37,63.97 L525.82,64.83 L533.28,71.91 L540.74,73.93 L548.19,72.49 L555.65,75.07 L563.1,69.64 L570.56,65.1 L578.02,65.96 L585.47,72.49 L592.93,76.17 L600.38,77.89 L607.84,78.23 L615.3,79.88" fill="none" stroke="#1a1a1a" stroke-width="1.1" stroke-linejoin="round"/><circle cx="496" cy="87.58" r="2.15" fill="#00ee00"/><circle cx="503.46" cy="82.11" r="2.15" fill="#00ee00"/><circle cx="518.37" cy="74.79" r="2.15" fill="#00ee00"/><circle cx="525.82" cy="76.75" r="2.15" fill="#00ee00"/><circle cx="533.28" cy="79.6" r="2.15" fill="#00ee00"/><circle cx="540.74" cy="85" r="2.15" fill="#00ee00"/><circle cx="548.19" cy="85" r="2.15" fill="#00ee00"/><circle cx="555.65" cy="88.71" r="2.15" fill="#00ee00"/><circle cx="563.1" cy="86.72" r="2.15" fill="#00ee00"/><circle cx="570.56" cy="87.27" r="2.15" fill="#00ee00"/><circle cx="578.02" cy="86.72" r="2.15" fill="#00ee00"/><circle cx="585.47" cy="95.24" r="2.15" fill="#00ee00"/><circle cx="592.93" cy="100.08" r="2.15" fill="#00ee00"/><circle cx="600.38" cy="104.93" r="2.15" fill="#00ee00"/><circle cx="607.84" cy="92.39" r="2.15" fill="#00ee00"/><circle cx="615.3" cy="91.84" r="2.15" fill="#00ee00"/><circle cx="496" cy="79.88" r="2.15" fill="#f00000"/><circle cx="503.46" cy="74.21" r="2.15" fill="#f00000"/><circle cx="518.37" cy="63.97" r="2.15" fill="#f00000"/><circle cx="525.82" cy="64.83" r="2.15" fill="#f00000"/><circle cx="533.28" cy="71.91" r="2.15" fill="#f00000"/><circle cx="540.74" cy="73.93" r="2.15" fill="#f00000"/><circle cx="548.19" cy="72.49" r="2.15" fill="#f00000"/><circle cx="555.65" cy="75.07" r="2.15" fill="#f00000"/><circle cx="563.1" cy="69.64" r="2.15" fill="#f00000"/><circle cx="570.56" cy="65.1" r="2.15" fill="#f00000"/><circle cx="578.02" cy="65.96" r="2.15" fill="#f00000"/><circle cx="585.47" cy="72.49" r="2.15" fill="#f00000"/><circle cx="592.93" cy="76.17" r="2.15" fill="#f00000"/><circle cx="600.38" cy="77.89" r="2.15" fill="#f00000"/><circle cx="607.84" cy="78.23" r="2.15" fill="#f00000"/><circle cx="615.3" cy="79.88" r="2.15" fill="#f00000"/><polygon points="600.38,60.65 601,62.25 602.71,62.34 601.38,63.42 601.82,65.08 600.38,64.15 598.94,65.08 599.39,63.42 598.05,62.34 599.77,62.25" fill="#111"/><line x1="626.7" y1="36.9" x2="636.3" y2="36.9" stroke="#1a1a1a" stroke-width="1.1"/><circle cx="631.5" cy="36.9" r="2" fill="#f00000"/><text x="641" y="39.4" font-size="6.5" fill="#333">Propranolol</text><line x1="626.7" y1="47.4" x2="636.3" y2="47.4" stroke="#1a1a1a" stroke-width="1.1"/><circle cx="631.5" cy="47.4" r="2" fill="#00ee00"/><text x="641" y="49.9" font-size="6.5" fill="#333">Control</text><text transform="translate(677.7,45.7) scale(0.85,1) skewX(-6)" font-size="10.2" font-weight="bold" fill="#111" stroke="#111" stroke-width="0.35">#</text></g>
<g><text x="0.4" y="160.2" font-size="15" font-weight="bold" fill="#000">d</text><line x1="45.5" y1="179" x2="45.5" y2="264.5" stroke="#a3a3a3" stroke-width="1" stroke-dasharray="1,1"/><path d="M26.2,178.6V264.5H155.6" fill="none" stroke="#262626" stroke-width="1.1"/><line x1="22.2" y1="264.5" x2="26.2" y2="264.5" stroke="#262626" stroke-width="1"/><text x="21.3" y="266.7" font-size="6.2" font-weight="bold" text-anchor="end" fill="#1a1a1a">1.5</text><line x1="22.2" y1="221.55" x2="26.2" y2="221.55" stroke="#262626" stroke-width="1"/><text x="21.3" y="223.75" font-size="6.2" font-weight="bold" text-anchor="end" fill="#1a1a1a">2.0</text><line x1="22.2" y1="178.6" x2="26.2" y2="178.6" stroke="#262626" stroke-width="1"/><text x="21.3" y="180.8" font-size="6.2" font-weight="bold" text-anchor="end" fill="#1a1a1a">2.5</text><line x1="30.9" y1="264.5" x2="30.9" y2="267.8" stroke="#262626" stroke-width="1"/><text x="32.9" y="273.7" font-size="6.3" font-weight="bold" text-anchor="end" fill="#1a1a1a" transform="rotate(-45 32.9 273.7)">-5</text><line x1="38.38" y1="264.5" x2="38.38" y2="267.8" stroke="#262626" stroke-width="1"/><text x="40.38" y="273.7" font-size="6.3" font-weight="bold" text-anchor="end" fill="#1a1a1a" transform="rotate(-45 40.38 273.7)">-2</text><line x1="45.86" y1="264.5" x2="45.86" y2="267.8" stroke="#262626" stroke-width="1"/><text x="47.86" y="273.7" font-size="6.3" font-weight="bold" text-anchor="end" fill="#1a1a1a" transform="rotate(-45 47.86 273.7)">0</text><line x1="53.34" y1="264.5" x2="53.34" y2="267.8" stroke="#262626" stroke-width="1"/><text x="55.34" y="273.7" font-size="6.3" font-weight="bold" text-anchor="end" fill="#1a1a1a" transform="rotate(-45 55.34 273.7)">1</text><line x1="60.82" y1="264.5" x2="60.82" y2="267.8" stroke="#262626" stroke-width="1"/><text x="62.82" y="273.7" font-size="6.3" font-weight="bold" text-anchor="end" fill="#1a1a1a" transform="rotate(-45 62.82 273.7)">2</text><line x1="68.3" y1="264.5" x2="68.3" y2="267.8" stroke="#262626" stroke-width="1"/><text x="70.3" y="273.7" font-size="6.3" font-weight="bold" text-anchor="end" fill="#1a1a1a" transform="rotate(-45 70.3 273.7)">3</text><line x1="75.78" y1="264.5" x2="75.78" y2="267.8" stroke="#262626" stroke-width="1"/><text x="77.78" y="273.7" font-size="6.3" font-weight="bold" text-anchor="end" fill="#1a1a1a" transform="rotate(-45 77.78 273.7)">4</text><line x1="83.26" y1="264.5" x2="83.26" y2="267.8" stroke="#262626" stroke-width="1"/><text x="85.26" y="273.7" font-size="6.3" font-weight="bold" text-anchor="end" fill="#1a1a1a" transform="rotate(-45 85.26 273.7)">5</text><line x1="90.74" y1="264.5" x2="90.74" y2="267.8" stroke="#262626" stroke-width="1"/><text x="92.74" y="273.7" font-size="6.3" font-weight="bold" text-anchor="end" fill="#1a1a1a" transform="rotate(-45 92.74 273.7)">6</text><line x1="98.22" y1="264.5" x2="98.22" y2="267.8" stroke="#262626" stroke-width="1"/><text x="100.22" y="273.7" font-size="6.3" font-weight="bold" text-anchor="end" fill="#1a1a1a" transform="rotate(-45 100.22 273.7)">7</text><line x1="105.7" y1="264.5" x2="105.7" y2="267.8" stroke="#262626" stroke-width="1"/><text x="107.7" y="273.7" font-size="6.3" font-weight="bold" text-anchor="end" fill="#1a1a1a" transform="rotate(-45 107.7 273.7)">8</text><line x1="113.18" y1="264.5" x2="113.18" y2="267.8" stroke="#262626" stroke-width="1"/><text x="115.18" y="273.7" font-size="6.3" font-weight="bold" text-anchor="end" fill="#1a1a1a" transform="rotate(-45 115.18 273.7)">9</text><line x1="120.66" y1="264.5" x2="120.66" y2="267.8" stroke="#262626" stroke-width="1"/><text x="122.66" y="273.7" font-size="6.3" font-weight="bold" text-anchor="end" fill="#1a1a1a" transform="rotate(-45 122.66 273.7)">10</text><line x1="128.14" y1="264.5" x2="128.14" y2="267.8" stroke="#262626" stroke-width="1"/><text x="130.14" y="273.7" font-size="6.3" font-weight="bold" text-anchor="end" fill="#1a1a1a" transform="rotate(-45 130.14 273.7)">11</text><line x1="135.62" y1="264.5" x2="135.62" y2="267.8" stroke="#262626" stroke-width="1"/><text x="137.62" y="273.7" font-size="6.3" font-weight="bold" text-anchor="end" fill="#1a1a1a" transform="rotate(-45 137.62 273.7)">12</text><line x1="143.1" y1="264.5" x2="143.1" y2="267.8" stroke="#262626" stroke-width="1"/><text x="145.1" y="273.7" font-size="6.3" font-weight="bold" text-anchor="end" fill="#1a1a1a" transform="rotate(-45 145.1 273.7)">13</text><line x1="150.58" y1="264.5" x2="150.58" y2="267.8" stroke="#262626" stroke-width="1"/><text x="152.58" y="273.7" font-size="6.3" font-weight="bold" text-anchor="end" fill="#1a1a1a" transform="rotate(-45 152.58 273.7)">14</text><text x="8.2" y="221.15" font-size="7.2" font-weight="bold" text-anchor="middle" fill="#1a1a1a" transform="rotate(-90 8.2 221.15)">Mean platelet mass (pg)</text><text x="90.6" y="284.3" font-size="6.1" font-weight="bold" text-anchor="middle" fill="#1a1a1a" textLength="14.8" lengthAdjust="spacingAndGlyphs">Days</text><path d="M30.9,207.81V219.83M29,207.81H32.8M29,219.83H32.8" stroke="#8ce08c" stroke-width="0.9" fill="none"/><path d="M38.38,209.01V221.03M36.48,209.01H40.28M36.48,221.03H40.28" stroke="#8ce08c" stroke-width="0.9" fill="none"/><path d="M53.34,212.96V216.4M51.44,212.96H55.24M51.44,216.4H55.24" stroke="#8ce08c" stroke-width="0.9" fill="none"/><path d="M60.82,212.36V219.23M58.92,212.36H62.72M58.92,219.23H62.72" stroke="#8ce08c" stroke-width="0.9" fill="none"/><path d="M68.3,212.36V219.23M66.4,212.36H70.2M66.4,219.23H70.2" stroke="#8ce08c" stroke-width="0.9" fill="none"/><path d="M75.78,212.36V219.23M73.88,212.36H77.68M73.88,219.23H77.68" stroke="#8ce08c" stroke-width="0.9" fill="none"/><path d="M83.26,221.03V227.91M81.36,221.03H85.16M81.36,227.91H85.16" stroke="#8ce08c" stroke-width="0.9" fill="none"/><path d="M90.74,217.25V225.84M88.84,217.25H92.64M88.84,225.84H92.64" stroke="#8ce08c" stroke-width="0.9" fill="none"/><path d="M98.22,218.97V227.56M96.32,218.97H100.12M96.32,227.56H100.12" stroke="#8ce08c" stroke-width="0.9" fill="none"/><path d="M105.7,219.32V227.91M103.8,219.32H107.6M103.8,227.91H107.6" stroke="#8ce08c" stroke-width="0.9" fill="none"/><path d="M113.18,222.41V231M111.28,222.41H115.08M111.28,231H115.08" stroke="#8ce08c" stroke-width="0.9" fill="none"/><path d="M120.66,221.03V227.91M118.76,221.03H122.56M118.76,227.91H122.56" stroke="#8ce08c" stroke-width="0.9" fill="none"/><path d="M128.14,221.55V228.42M126.24,221.55H130.04M126.24,228.42H130.04" stroke="#8ce08c" stroke-width="0.9" fill="none"/><path d="M135.62,222.15V227.31M133.72,222.15H137.52M133.72,227.31H137.52" stroke="#8ce08c" stroke-width="0.9" fill="none"/><path d="M143.1,222.15V227.31M141.2,222.15H145M141.2,227.31H145" stroke="#8ce08c" stroke-width="0.9" fill="none"/><path d="M150.58,217.6V224.47M148.68,217.6H152.48M148.68,224.47H152.48" stroke="#8ce08c" stroke-width="0.9" fill="none"/><path d="M30.9,204.37V219.83M29,204.37H32.8M29,219.83H32.8" stroke="#de8f97" stroke-width="0.9" fill="none"/><path d="M38.38,192.34V207.81M36.48,192.34H40.28M36.48,207.81H40.28" stroke="#de8f97" stroke-width="0.9" fill="none"/><path d="M53.34,198.36V201.79M51.44,198.36H55.24M51.44,201.79H55.24" stroke="#de8f97" stroke-width="0.9" fill="none"/><path d="M60.82,197.15V205.74M58.92,197.15H62.72M58.92,205.74H62.72" stroke="#de8f97" stroke-width="0.9" fill="none"/><path d="M68.3,202.65V211.24M66.4,202.65H70.2M66.4,211.24H70.2" stroke="#de8f97" stroke-width="0.9" fill="none"/><path d="M75.78,205.23V210.38M73.88,205.23H77.68M73.88,210.38H77.68" stroke="#de8f97" stroke-width="0.9" fill="none"/><path d="M83.26,209.52V214.68M81.36,209.52H85.16M81.36,214.68H85.16" stroke="#de8f97" stroke-width="0.9" fill="none"/><path d="M90.74,207.81V214.68M88.84,207.81H92.64M88.84,214.68H92.64" stroke="#de8f97" stroke-width="0.9" fill="none"/><path d="M98.22,208.67V215.54M96.32,208.67H100.12M96.32,215.54H100.12" stroke="#de8f97" stroke-width="0.9" fill="none"/><path d="M105.7,204.97V215.28M103.8,204.97H107.6M103.8,215.28H107.6" stroke="#de8f97" stroke-width="0.9" fill="none"/><path d="M113.18,204.11V216.14M111.28,204.11H115.08M111.28,216.14H115.08" stroke="#de8f97" stroke-width="0.9" fill="none"/><path d="M120.66,202.65V214.68M118.76,202.65H122.56M118.76,214.68H122.56" stroke="#de8f97" stroke-width="0.9" fill="none"/><path d="M128.14,206.95V215.54M126.24,206.95H130.04M126.24,215.54H130.04" stroke="#de8f97" stroke-width="0.9" fill="none"/><path d="M135.62,204.97V210.13M133.72,204.97H137.52M133.72,210.13H137.52" stroke="#de8f97" stroke-width="0.9" fill="none"/><path d="M143.1,200.07V206.95M141.2,200.07H145M141.2,206.95H145" stroke="#de8f97" stroke-width="0.9" fill="none"/><path d="M150.58,202.65V212.96M148.68,202.65H152.48M148.68,212.96H152.48" stroke="#de8f97" stroke-width="0.9" fill="none"/><path d="M30.9,213.82 L38.38,215.02 L53.34,214.68 L60.82,215.79 L68.3,215.79 L75.78,215.79 L83.26,224.47 L90.74,221.55 L98.22,223.27 L105.7,223.61 L113.18,226.7 L120.66,224.47 L128.14,224.99 L135.62,224.73 L143.1,224.73 L150.58,221.03" fill="none" stroke="#1a1a1a" stroke-width="1.1" stroke-linejoin="round"/><path d="M30.9,212.1 L38.38,200.07 L53.34,200.07 L60.82,201.45 L68.3,206.95 L75.78,207.81 L83.26,212.1 L90.74,211.24 L98.22,212.1 L105.7,210.13 L113.18,210.13 L120.66,208.67 L128.14,211.24 L135.62,207.55 L143.1,203.51 L150.58,207.81" fill="none" stroke="#1a1a1a" stroke-width="1.1" stroke-linejoin="round"/><circle cx="30.9" cy="213.82" r="2.15" fill="#00ee00"/><circle cx="38.38" cy="215.02" r="2.15" fill="#00ee00"/><circle cx="53.34" cy="214.68" r="2.15" fill="#00ee00"/><circle cx="60.82" cy="215.79" r="2.15" fill="#00ee00"/><circle cx="68.3" cy="215.79" r="2.15" fill="#00ee00"/><circle cx="75.78" cy="215.79" r="2.15" fill="#00ee00"/><circle cx="83.26" cy="224.47" r="2.15" fill="#00ee00"/><circle cx="90.74" cy="221.55" r="2.15" fill="#00ee00"/><circle cx="98.22" cy="223.27" r="2.15" fill="#00ee00"/><circle cx="105.7" cy="223.61" r="2.15" fill="#00ee00"/><circle cx="113.18" cy="226.7" r="2.15" fill="#00ee00"/><circle cx="120.66" cy="224.47" r="2.15" fill="#00ee00"/><circle cx="128.14" cy="224.99" r="2.15" fill="#00ee00"/><circle cx="135.62" cy="224.73" r="2.15" fill="#00ee00"/><circle cx="143.1" cy="224.73" r="2.15" fill="#00ee00"/><circle cx="150.58" cy="221.03" r="2.15" fill="#00ee00"/><circle cx="30.9" cy="212.1" r="2.15" fill="#f00000"/><circle cx="38.38" cy="200.07" r="2.15" fill="#f00000"/><circle cx="53.34" cy="200.07" r="2.15" fill="#f00000"/><circle cx="60.82" cy="201.45" r="2.15" fill="#f00000"/><circle cx="68.3" cy="206.95" r="2.15" fill="#f00000"/><circle cx="75.78" cy="207.81" r="2.15" fill="#f00000"/><circle cx="83.26" cy="212.1" r="2.15" fill="#f00000"/><circle cx="90.74" cy="211.24" r="2.15" fill="#f00000"/><circle cx="98.22" cy="212.1" r="2.15" fill="#f00000"/><circle cx="105.7" cy="210.13" r="2.15" fill="#f00000"/><circle cx="113.18" cy="210.13" r="2.15" fill="#f00000"/><circle cx="120.66" cy="208.67" r="2.15" fill="#f00000"/><circle cx="128.14" cy="211.24" r="2.15" fill="#f00000"/><circle cx="135.62" cy="207.55" r="2.15" fill="#f00000"/><circle cx="143.1" cy="203.51" r="2.15" fill="#f00000"/><circle cx="150.58" cy="207.81" r="2.15" fill="#f00000"/><polygon points="38.38,184.65 39,186.25 40.71,186.34 39.38,187.42 39.82,189.08 38.38,188.15 36.94,189.08 37.38,187.42 36.05,186.34 37.76,186.25" fill="#111"/><polygon points="53.34,190.45 53.96,192.05 55.67,192.14 54.34,193.22 54.78,194.88 53.34,193.95 51.9,194.88 52.34,193.22 51.01,192.14 52.72,192.05" fill="#111"/><polygon points="60.82,189.55 61.44,191.15 63.15,191.24 61.82,192.32 62.26,193.98 60.82,193.05 59.38,193.98 59.82,192.32 58.49,191.24 60.2,191.15" fill="#111"/><polygon points="105.7,196.55 106.32,198.15 108.03,198.24 106.7,199.32 107.14,200.98 105.7,200.05 104.26,200.98 104.7,199.32 103.37,198.24 105.08,198.15" fill="#111"/><polygon points="113.18,196.55 113.8,198.15 115.51,198.24 114.18,199.32 114.62,200.98 113.18,200.05 111.74,200.98 112.18,199.32 110.85,198.24 112.56,198.15" fill="#111"/><polygon points="120.66,195.55 121.28,197.15 122.99,197.24 121.66,198.32 122.1,199.98 120.66,199.05 119.22,199.98 119.66,198.32 118.33,197.24 120.04,197.15" fill="#111"/><polygon points="128.14,199.45 128.76,201.05 130.47,201.14 129.14,202.22 129.58,203.88 128.14,202.95 126.7,203.88 127.14,202.22 125.81,201.14 127.52,201.05" fill="#111"/><polygon points="135.62,199.95 136.24,201.55 137.95,201.64 136.62,202.72 137.06,204.38 135.62,203.45 134.18,204.38 134.62,202.72 133.29,201.64 135,201.55" fill="#111"/><polygon points="143.1,192.95 143.72,194.55 145.43,194.64 144.1,195.72 144.54,197.38 143.1,196.45 141.66,197.38 142.1,195.72 140.77,194.64 142.48,194.55" fill="#111"/><polygon points="150.58,194.05 151.2,195.65 152.91,195.74 151.58,196.82 152.02,198.48 150.58,197.55 149.14,198.48 149.58,196.82 148.25,195.74 149.96,195.65" fill="#111"/><line x1="161.3" y1="184.1" x2="170.9" y2="184.1" stroke="#1a1a1a" stroke-width="1.1"/><circle cx="166.1" cy="184.1" r="2" fill="#f00000"/><text x="175.6" y="186.6" font-size="7.1" fill="#333">Propranolol</text><line x1="161.3" y1="195.3" x2="170.9" y2="195.3" stroke="#1a1a1a" stroke-width="1.1"/><circle cx="166.1" cy="195.3" r="2" fill="#00ee00"/><text x="175.6" y="197.8" font-size="7.1" fill="#333">Control</text><text transform="translate(213.1,192.8) scale(0.85,1) skewX(-6)" font-size="10.2" font-weight="bold" fill="#111" stroke="#111" stroke-width="0.35">#</text></g>
<g><text x="233.2" y="160.6" font-size="15" font-weight="bold" fill="#000">e</text><line x1="282.5" y1="179" x2="282.5" y2="264.5" stroke="#a3a3a3" stroke-width="1" stroke-dasharray="1,1"/><path d="M263,178.6V264.5H392.7" fill="none" stroke="#262626" stroke-width="1.1"/><line x1="259" y1="264.5" x2="263" y2="264.5" stroke="#262626" stroke-width="1"/><text x="258.1" y="266.7" font-size="6.2" font-weight="bold" text-anchor="end" fill="#1a1a1a">5</text><line x1="259" y1="221.55" x2="263" y2="221.55" stroke="#262626" stroke-width="1"/><text x="258.1" y="223.75" font-size="6.2" font-weight="bold" text-anchor="end" fill="#1a1a1a">10</text><line x1="259" y1="178.6" x2="263" y2="178.6" stroke="#262626" stroke-width="1"/><text x="258.1" y="180.8" font-size="6.2" font-weight="bold" text-anchor="end" fill="#1a1a1a">15</text><line x1="267.6" y1="264.5" x2="267.6" y2="267.8" stroke="#262626" stroke-width="1"/><text x="269.6" y="273.7" font-size="6.3" font-weight="bold" text-anchor="end" fill="#1a1a1a" transform="rotate(-45 269.6 273.7)">-5</text><line x1="275.09" y1="264.5" x2="275.09" y2="267.8" stroke="#262626" stroke-width="1"/><text x="277.09" y="273.7" font-size="6.3" font-weight="bold" text-anchor="end" fill="#1a1a1a" transform="rotate(-45 277.09 273.7)">-2</text><line x1="282.58" y1="264.5" x2="282.58" y2="267.8" stroke="#262626" stroke-width="1"/><text x="284.58" y="273.7" font-size="6.3" font-weight="bold" text-anchor="end" fill="#1a1a1a" transform="rotate(-45 284.58 273.7)">0</text><line x1="290.07" y1="264.5" x2="290.07" y2="267.8" stroke="#262626" stroke-width="1"/><text x="292.07" y="273.7" font-size="6.3" font-weight="bold" text-anchor="end" fill="#1a1a1a" transform="rotate(-45 292.07 273.7)">1</text><line x1="297.56" y1="264.5" x2="297.56" y2="267.8" stroke="#262626" stroke-width="1"/><text x="299.56" y="273.7" font-size="6.3" font-weight="bold" text-anchor="end" fill="#1a1a1a" transform="rotate(-45 299.56 273.7)">2</text><line x1="305.05" y1="264.5" x2="305.05" y2="267.8" stroke="#262626" stroke-width="1"/><text x="307.05" y="273.7" font-size="6.3" font-weight="bold" text-anchor="end" fill="#1a1a1a" transform="rotate(-45 307.05 273.7)">3</text><line x1="312.54" y1="264.5" x2="312.54" y2="267.8" stroke="#262626" stroke-width="1"/><text x="314.54" y="273.7" font-size="6.3" font-weight="bold" text-anchor="end" fill="#1a1a1a" transform="rotate(-45 314.54 273.7)">4</text><line x1="320.03" y1="264.5" x2="320.03" y2="267.8" stroke="#262626" stroke-width="1"/><text x="322.03" y="273.7" font-size="6.3" font-weight="bold" text-anchor="end" fill="#1a1a1a" transform="rotate(-45 322.03 273.7)">5</text><line x1="327.52" y1="264.5" x2="327.52" y2="267.8" stroke="#262626" stroke-width="1"/><text x="329.52" y="273.7" font-size="6.3" font-weight="bold" text-anchor="end" fill="#1a1a1a" transform="rotate(-45 329.52 273.7)">6</text><line x1="335.01" y1="264.5" x2="335.01" y2="267.8" stroke="#262626" stroke-width="1"/><text x="337.01" y="273.7" font-size="6.3" font-weight="bold" text-anchor="end" fill="#1a1a1a" transform="rotate(-45 337.01 273.7)">7</text><line x1="342.5" y1="264.5" x2="342.5" y2="267.8" stroke="#262626" stroke-width="1"/><text x="344.5" y="273.7" font-size="6.3" font-weight="bold" text-anchor="end" fill="#1a1a1a" transform="rotate(-45 344.5 273.7)">8</text><line x1="349.99" y1="264.5" x2="349.99" y2="267.8" stroke="#262626" stroke-width="1"/><text x="351.99" y="273.7" font-size="6.3" font-weight="bold" text-anchor="end" fill="#1a1a1a" transform="rotate(-45 351.99 273.7)">9</text><line x1="357.48" y1="264.5" x2="357.48" y2="267.8" stroke="#262626" stroke-width="1"/><text x="359.48" y="273.7" font-size="6.3" font-weight="bold" text-anchor="end" fill="#1a1a1a" transform="rotate(-45 359.48 273.7)">10</text><line x1="364.97" y1="264.5" x2="364.97" y2="267.8" stroke="#262626" stroke-width="1"/><text x="366.97" y="273.7" font-size="6.3" font-weight="bold" text-anchor="end" fill="#1a1a1a" transform="rotate(-45 366.97 273.7)">11</text><line x1="372.46" y1="264.5" x2="372.46" y2="267.8" stroke="#262626" stroke-width="1"/><text x="374.46" y="273.7" font-size="6.3" font-weight="bold" text-anchor="end" fill="#1a1a1a" transform="rotate(-45 374.46 273.7)">12</text><line x1="379.95" y1="264.5" x2="379.95" y2="267.8" stroke="#262626" stroke-width="1"/><text x="381.95" y="273.7" font-size="6.3" font-weight="bold" text-anchor="end" fill="#1a1a1a" transform="rotate(-45 381.95 273.7)">13</text><line x1="387.44" y1="264.5" x2="387.44" y2="267.8" stroke="#262626" stroke-width="1"/><text x="389.44" y="273.7" font-size="6.3" font-weight="bold" text-anchor="end" fill="#1a1a1a" transform="rotate(-45 389.44 273.7)">14</text><text x="246.2" y="221.15" font-size="7.2" font-weight="bold" text-anchor="middle" fill="#1a1a1a" transform="rotate(-90 246.2 221.15)">Mean platelet volume (fL)</text><text x="327.55" y="284.3" font-size="6.1" font-weight="bold" text-anchor="middle" fill="#1a1a1a" textLength="14.8" lengthAdjust="spacingAndGlyphs">Days</text><path d="M267.6,231.6V233.32M265.7,231.6H269.5M265.7,233.32H269.5" stroke="#8ce08c" stroke-width="0.9" fill="none"/><path d="M275.09,226.7V233.58M273.19,226.7H276.99M273.19,233.58H276.99" stroke="#8ce08c" stroke-width="0.9" fill="none"/><path d="M290.07,231.6V233.32M288.17,231.6H291.97M288.17,233.32H291.97" stroke="#8ce08c" stroke-width="0.9" fill="none"/><path d="M297.56,231.6V233.32M295.66,231.6H299.46M295.66,233.32H299.46" stroke="#8ce08c" stroke-width="0.9" fill="none"/><path d="M305.05,231.6V233.32M303.15,231.6H306.95M303.15,233.32H306.95" stroke="#8ce08c" stroke-width="0.9" fill="none"/><path d="M312.54,225.24V233.83M310.64,225.24H314.44M310.64,233.83H314.44" stroke="#8ce08c" stroke-width="0.9" fill="none"/><path d="M320.03,233.15V235.72M318.13,233.15H321.93M318.13,235.72H321.93" stroke="#8ce08c" stroke-width="0.9" fill="none"/><path d="M327.52,234.61V237.18M325.62,234.61H329.42M325.62,237.18H329.42" stroke="#8ce08c" stroke-width="0.9" fill="none"/><path d="M335.01,233.83V237.27M333.11,233.83H336.91M333.11,237.27H336.91" stroke="#8ce08c" stroke-width="0.9" fill="none"/><path d="M342.5,233.83V237.27M340.6,233.83H344.4M340.6,237.27H344.4" stroke="#8ce08c" stroke-width="0.9" fill="none"/><path d="M349.99,234.69V241.56M348.09,234.69H351.89M348.09,241.56H351.89" stroke="#8ce08c" stroke-width="0.9" fill="none"/><path d="M357.48,234.61V237.18M355.58,234.61H359.38M355.58,237.18H359.38" stroke="#8ce08c" stroke-width="0.9" fill="none"/><path d="M364.97,238.9V241.48M363.07,238.9H366.87M363.07,241.48H366.87" stroke="#8ce08c" stroke-width="0.9" fill="none"/><path d="M372.46,236.41V238.99M370.56,236.41H374.36M370.56,238.99H374.36" stroke="#8ce08c" stroke-width="0.9" fill="none"/><path d="M379.95,234.95V237.01M378.05,234.95H381.85M378.05,237.01H381.85" stroke="#8ce08c" stroke-width="0.9" fill="none"/><path d="M387.44,233.66V235.72M385.54,233.66H389.34M385.54,235.72H389.34" stroke="#8ce08c" stroke-width="0.9" fill="none"/><path d="M267.6,231.6V233.32M265.7,231.6H269.5M265.7,233.32H269.5" stroke="#de8f97" stroke-width="0.9" fill="none"/><path d="M275.09,217.77V226.36M273.19,217.77H276.99M273.19,226.36H276.99" stroke="#de8f97" stroke-width="0.9" fill="none"/><path d="M290.07,223.96V226.53M288.17,223.96H291.97M288.17,226.53H291.97" stroke="#de8f97" stroke-width="0.9" fill="none"/><path d="M297.56,224.13V227.56M295.66,224.13H299.46M295.66,227.56H299.46" stroke="#de8f97" stroke-width="0.9" fill="none"/><path d="M305.05,227.39V229.97M303.15,227.39H306.95M303.15,229.97H306.95" stroke="#de8f97" stroke-width="0.9" fill="none"/><path d="M312.54,219.23V227.82M310.64,219.23H314.44M310.64,227.82H314.44" stroke="#de8f97" stroke-width="0.9" fill="none"/><path d="M320.03,226.27V228.85M318.13,226.27H321.93M318.13,228.85H321.93" stroke="#de8f97" stroke-width="0.9" fill="none"/><path d="M327.52,229.45V232.03M325.62,229.45H329.42M325.62,232.03H329.42" stroke="#de8f97" stroke-width="0.9" fill="none"/><path d="M335.01,226.7V231.86M333.11,226.7H336.91M333.11,231.86H336.91" stroke="#de8f97" stroke-width="0.9" fill="none"/><path d="M342.5,226.7V231.34M340.6,226.7H344.4M340.6,231.34H344.4" stroke="#de8f97" stroke-width="0.9" fill="none"/><path d="M349.99,227.73V233.75M348.09,227.73H351.89M348.09,233.75H351.89" stroke="#de8f97" stroke-width="0.9" fill="none"/><path d="M357.48,226.7V229.28M355.58,226.7H359.38M355.58,229.28H359.38" stroke="#de8f97" stroke-width="0.9" fill="none"/><path d="M364.97,226.7V228.77M363.07,226.7H366.87M363.07,228.77H366.87" stroke="#de8f97" stroke-width="0.9" fill="none"/><path d="M372.46,225.24V227.31M370.56,225.24H374.36M370.56,227.31H374.36" stroke="#de8f97" stroke-width="0.9" fill="none"/><path d="M379.95,222.84V225.42M378.05,222.84H381.85M378.05,225.42H381.85" stroke="#de8f97" stroke-width="0.9" fill="none"/><path d="M387.44,226.36V228.42M385.54,226.36H389.34M385.54,228.42H389.34" stroke="#de8f97" stroke-width="0.9" fill="none"/><path d="M267.6,232.46 L275.09,230.14 L290.07,232.46 L297.56,232.46 L305.05,232.46 L312.54,229.54 L320.03,234.44 L327.52,235.9 L335.01,235.55 L342.5,235.55 L349.99,238.13 L357.48,235.9 L364.97,240.19 L372.46,237.7 L379.95,235.98 L387.44,234.69" fill="none" stroke="#1a1a1a" stroke-width="1.1" stroke-linejoin="round"/><path d="M267.6,232.46 L275.09,222.07 L290.07,225.24 L297.56,225.84 L305.05,228.68 L312.54,223.53 L320.03,227.56 L327.52,230.74 L335.01,229.28 L342.5,229.02 L349.99,230.74 L357.48,227.99 L364.97,227.73 L372.46,226.27 L379.95,224.13 L387.44,227.39" fill="none" stroke="#1a1a1a" stroke-width="1.1" stroke-linejoin="round"/><circle cx="267.6" cy="232.46" r="2.15" fill="#00ee00"/><circle cx="275.09" cy="230.14" r="2.15" fill="#00ee00"/><circle cx="290.07" cy="232.46" r="2.15" fill="#00ee00"/><circle cx="297.56" cy="232.46" r="2.15" fill="#00ee00"/><circle cx="305.05" cy="232.46" r="2.15" fill="#00ee00"/><circle cx="312.54" cy="229.54" r="2.15" fill="#00ee00"/><circle cx="320.03" cy="234.44" r="2.15" fill="#00ee00"/><circle cx="327.52" cy="235.9" r="2.15" fill="#00ee00"/><circle cx="335.01" cy="235.55" r="2.15" fill="#00ee00"/><circle cx="342.5" cy="235.55" r="2.15" fill="#00ee00"/><circle cx="349.99" cy="238.13" r="2.15" fill="#00ee00"/><circle cx="357.48" cy="235.9" r="2.15" fill="#00ee00"/><circle cx="364.97" cy="240.19" r="2.15" fill="#00ee00"/><circle cx="372.46" cy="237.7" r="2.15" fill="#00ee00"/><circle cx="379.95" cy="235.98" r="2.15" fill="#00ee00"/><circle cx="387.44" cy="234.69" r="2.15" fill="#00ee00"/><circle cx="267.6" cy="232.46" r="2.15" fill="#f00000"/><circle cx="275.09" cy="222.07" r="2.15" fill="#f00000"/><circle cx="290.07" cy="225.24" r="2.15" fill="#f00000"/><circle cx="297.56" cy="225.84" r="2.15" fill="#f00000"/><circle cx="305.05" cy="228.68" r="2.15" fill="#f00000"/><circle cx="312.54" cy="223.53" r="2.15" fill="#f00000"/><circle cx="320.03" cy="227.56" r="2.15" fill="#f00000"/><circle cx="327.52" cy="230.74" r="2.15" fill="#f00000"/><circle cx="335.01" cy="229.28" r="2.15" fill="#f00000"/><circle cx="342.5" cy="229.02" r="2.15" fill="#f00000"/><circle cx="349.99" cy="230.74" r="2.15" fill="#f00000"/><circle cx="357.48" cy="227.99" r="2.15" fill="#f00000"/><circle cx="364.97" cy="227.73" r="2.15" fill="#f00000"/><circle cx="372.46" cy="226.27" r="2.15" fill="#f00000"/><circle cx="379.95" cy="224.13" r="2.15" fill="#f00000"/><circle cx="387.44" cy="227.39" r="2.15" fill="#f00000"/><polygon points="275.09,211.45 275.71,213.05 277.42,213.14 276.09,214.22 276.53,215.88 275.09,214.95 273.65,215.88 274.09,214.22 272.76,213.14 274.47,213.05" fill="#111"/><polygon points="290.07,216.55 290.69,218.15 292.4,218.24 291.07,219.32 291.51,220.98 290.07,220.05 288.63,220.98 289.07,219.32 287.74,218.24 289.45,218.15" fill="#111"/><polygon points="349.99,218.05 350.61,219.65 352.32,219.74 350.99,220.82 351.43,222.48 349.99,221.55 348.55,222.48 348.99,220.82 347.66,219.74 349.37,219.65" fill="#111"/><polygon points="357.48,214.65 358.1,216.25 359.81,216.34 358.48,217.42 358.92,219.08 357.48,218.15 356.04,219.08 356.48,217.42 355.15,216.34 356.86,216.25" fill="#111"/><polygon points="364.97,213.35 365.59,214.95 367.3,215.04 365.97,216.12 366.41,217.78 364.97,216.85 363.53,217.78 363.97,216.12 362.64,215.04 364.35,214.95" fill="#111"/><polygon points="372.46,213.35 373.08,214.95 374.79,215.04 373.46,216.12 373.9,217.78 372.46,216.85 371.02,217.78 371.46,216.12 370.13,215.04 371.84,214.95" fill="#111"/><polygon points="379.95,213.35 380.57,214.95 382.28,215.04 380.95,216.12 381.39,217.78 379.95,216.85 378.51,217.78 378.95,216.12 377.62,215.04 379.33,214.95" fill="#111"/><polygon points="387.44,213.35 388.06,214.95 389.77,215.04 388.44,216.12 388.88,217.78 387.44,216.85 386,217.78 386.44,216.12 385.11,215.04 386.82,214.95" fill="#111"/><line x1="398.6" y1="184.1" x2="408.2" y2="184.1" stroke="#1a1a1a" stroke-width="1.1"/><circle cx="403.4" cy="184.1" r="2" fill="#f00000"/><text x="412.8" y="186.6" font-size="7.2" fill="#333">Propranolol</text><line x1="398.6" y1="195.3" x2="408.2" y2="195.3" stroke="#1a1a1a" stroke-width="1.1"/><circle cx="403.4" cy="195.3" r="2" fill="#00ee00"/><text x="412.8" y="197.8" font-size="7.2" fill="#333">Control</text><text transform="translate(449.9,192.8) scale(0.85,1) skewX(-6)" font-size="10.0" font-weight="bold" fill="#111" stroke="#111" stroke-width="0.35">#</text></g>
<g><text x="462.6" y="160.2" font-size="15" font-weight="bold" fill="#000">f</text><line x1="510.5" y1="179" x2="510.5" y2="264.5" stroke="#a3a3a3" stroke-width="1" stroke-dasharray="1,1"/><path d="M491,178.6V264.5H621" fill="none" stroke="#262626" stroke-width="1.1"/><line x1="487" y1="264.5" x2="491" y2="264.5" stroke="#262626" stroke-width="1"/><text x="486.1" y="266.7" font-size="6.2" font-weight="bold" text-anchor="end" fill="#1a1a1a">30</text><line x1="487" y1="247.32" x2="491" y2="247.32" stroke="#262626" stroke-width="1"/><text x="486.1" y="249.52" font-size="6.2" font-weight="bold" text-anchor="end" fill="#1a1a1a">40</text><line x1="487" y1="230.14" x2="491" y2="230.14" stroke="#262626" stroke-width="1"/><text x="486.1" y="232.34" font-size="6.2" font-weight="bold" text-anchor="end" fill="#1a1a1a">50</text><line x1="487" y1="212.96" x2="491" y2="212.96" stroke="#262626" stroke-width="1"/><text x="486.1" y="215.16" font-size="6.2" font-weight="bold" text-anchor="end" fill="#1a1a1a">60</text><line x1="487" y1="195.78" x2="491" y2="195.78" stroke="#262626" stroke-width="1"/><text x="486.1" y="197.98" font-size="6.2" font-weight="bold" text-anchor="end" fill="#1a1a1a">70</text><line x1="487" y1="178.6" x2="491" y2="178.6" stroke="#262626" stroke-width="1"/><text x="486.1" y="180.8" font-size="6.2" font-weight="bold" text-anchor="end" fill="#1a1a1a">80</text><line x1="496" y1="264.5" x2="496" y2="267.8" stroke="#262626" stroke-width="1"/><text x="498" y="273.7" font-size="6.3" font-weight="bold" text-anchor="end" fill="#1a1a1a" transform="rotate(-45 498 273.7)">-5</text><line x1="503.45" y1="264.5" x2="503.45" y2="267.8" stroke="#262626" stroke-width="1"/><text x="505.45" y="273.7" font-size="6.3" font-weight="bold" text-anchor="end" fill="#1a1a1a" transform="rotate(-45 505.45 273.7)">-2</text><line x1="510.91" y1="264.5" x2="510.91" y2="267.8" stroke="#262626" stroke-width="1"/><text x="512.91" y="273.7" font-size="6.3" font-weight="bold" text-anchor="end" fill="#1a1a1a" transform="rotate(-45 512.91 273.7)">0</text><line x1="518.37" y1="264.5" x2="518.37" y2="267.8" stroke="#262626" stroke-width="1"/><text x="520.37" y="273.7" font-size="6.3" font-weight="bold" text-anchor="end" fill="#1a1a1a" transform="rotate(-45 520.37 273.7)">1</text><line x1="525.82" y1="264.5" x2="525.82" y2="267.8" stroke="#262626" stroke-width="1"/><text x="527.82" y="273.7" font-size="6.3" font-weight="bold" text-anchor="end" fill="#1a1a1a" transform="rotate(-45 527.82 273.7)">2</text><line x1="533.27" y1="264.5" x2="533.27" y2="267.8" stroke="#262626" stroke-width="1"/><text x="535.27" y="273.7" font-size="6.3" font-weight="bold" text-anchor="end" fill="#1a1a1a" transform="rotate(-45 535.27 273.7)">3</text><line x1="540.73" y1="264.5" x2="540.73" y2="267.8" stroke="#262626" stroke-width="1"/><text x="542.73" y="273.7" font-size="6.3" font-weight="bold" text-anchor="end" fill="#1a1a1a" transform="rotate(-45 542.73 273.7)">4</text><line x1="548.18" y1="264.5" x2="548.18" y2="267.8" stroke="#262626" stroke-width="1"/><text x="550.18" y="273.7" font-size="6.3" font-weight="bold" text-anchor="end" fill="#1a1a1a" transform="rotate(-45 550.18 273.7)">5</text><line x1="555.64" y1="264.5" x2="555.64" y2="267.8" stroke="#262626" stroke-width="1"/><text x="557.64" y="273.7" font-size="6.3" font-weight="bold" text-anchor="end" fill="#1a1a1a" transform="rotate(-45 557.64 273.7)">6</text><line x1="563.1" y1="264.5" x2="563.1" y2="267.8" stroke="#262626" stroke-width="1"/><text x="565.1" y="273.7" font-size="6.3" font-weight="bold" text-anchor="end" fill="#1a1a1a" transform="rotate(-45 565.1 273.7)">7</text><line x1="570.55" y1="264.5" x2="570.55" y2="267.8" stroke="#262626" stroke-width="1"/><text x="572.55" y="273.7" font-size="6.3" font-weight="bold" text-anchor="end" fill="#1a1a1a" transform="rotate(-45 572.55 273.7)">8</text><line x1="578" y1="264.5" x2="578" y2="267.8" stroke="#262626" stroke-width="1"/><text x="580" y="273.7" font-size="6.3" font-weight="bold" text-anchor="end" fill="#1a1a1a" transform="rotate(-45 580 273.7)">9</text><line x1="585.46" y1="264.5" x2="585.46" y2="267.8" stroke="#262626" stroke-width="1"/><text x="587.46" y="273.7" font-size="6.3" font-weight="bold" text-anchor="end" fill="#1a1a1a" transform="rotate(-45 587.46 273.7)">10</text><line x1="592.91" y1="264.5" x2="592.91" y2="267.8" stroke="#262626" stroke-width="1"/><text x="594.91" y="273.7" font-size="6.3" font-weight="bold" text-anchor="end" fill="#1a1a1a" transform="rotate(-45 594.91 273.7)">11</text><line x1="600.37" y1="264.5" x2="600.37" y2="267.8" stroke="#262626" stroke-width="1"/><text x="602.37" y="273.7" font-size="6.3" font-weight="bold" text-anchor="end" fill="#1a1a1a" transform="rotate(-45 602.37 273.7)">12</text><line x1="607.83" y1="264.5" x2="607.83" y2="267.8" stroke="#262626" stroke-width="1"/><text x="609.83" y="273.7" font-size="6.3" font-weight="bold" text-anchor="end" fill="#1a1a1a" transform="rotate(-45 609.83 273.7)">13</text><line x1="615.28" y1="264.5" x2="615.28" y2="267.8" stroke="#262626" stroke-width="1"/><text x="617.28" y="273.7" font-size="6.3" font-weight="bold" text-anchor="end" fill="#1a1a1a" transform="rotate(-45 617.28 273.7)">14</text><text x="474.8" y="221.15" font-size="7.2" font-weight="bold" text-anchor="middle" fill="#1a1a1a" transform="rotate(-90 474.8 221.15)">Large platelets (cells/mm<tspan font-size="4.6" dy="-2.6">3</tspan><tspan dy="2.6">)</tspan></text><text x="555.7" y="284.3" font-size="6.1" font-weight="bold" text-anchor="middle" fill="#1a1a1a" textLength="14.8" lengthAdjust="spacingAndGlyphs">Days</text><path d="M496,209.52V246.29M494.1,209.52H497.9M494.1,246.29H497.9" stroke="#8ce08c" stroke-width="0.9" fill="none"/><path d="M503.45,206.78V241.14M501.56,206.78H505.35M501.56,241.14H505.35" stroke="#8ce08c" stroke-width="0.9" fill="none"/><path d="M518.37,221.89V236.67M516.47,221.89H520.26M516.47,236.67H520.26" stroke="#8ce08c" stroke-width="0.9" fill="none"/><path d="M525.82,216.57V249.55M523.92,216.57H527.72M523.92,249.55H527.72" stroke="#8ce08c" stroke-width="0.9" fill="none"/><path d="M533.27,219.83V242.17M531.38,219.83H535.17M531.38,242.17H535.17" stroke="#8ce08c" stroke-width="0.9" fill="none"/><path d="M540.73,211.76V242.68M538.83,211.76H542.63M538.83,242.68H542.63" stroke="#8ce08c" stroke-width="0.9" fill="none"/><path d="M548.18,235.81V250.93M546.28,235.81H550.08M546.28,250.93H550.08" stroke="#8ce08c" stroke-width="0.9" fill="none"/><path d="M555.64,231.51V252.82M553.74,231.51H557.54M553.74,252.82H557.54" stroke="#8ce08c" stroke-width="0.9" fill="none"/><path d="M563.1,231.34V251.96M561.2,231.34H565M561.2,251.96H565" stroke="#8ce08c" stroke-width="0.9" fill="none"/><path d="M570.55,233.4V255.39M568.65,233.4H572.45M568.65,255.39H572.45" stroke="#8ce08c" stroke-width="0.9" fill="none"/><path d="M578,237.01V257.63M576.11,237.01H579.9M576.11,257.63H579.9" stroke="#8ce08c" stroke-width="0.9" fill="none"/><path d="M585.46,238.21V255.39M583.56,238.21H587.36M583.56,255.39H587.36" stroke="#8ce08c" stroke-width="0.9" fill="none"/><path d="M592.91,247.32V257.63M591.01,247.32H594.81M591.01,257.63H594.81" stroke="#8ce08c" stroke-width="0.9" fill="none"/><path d="M600.37,236.67V253.85M598.47,236.67H602.27M598.47,253.85H602.27" stroke="#8ce08c" stroke-width="0.9" fill="none"/><path d="M607.83,246.12V252.99M605.93,246.12H609.73M605.93,252.99H609.73" stroke="#8ce08c" stroke-width="0.9" fill="none"/><path d="M615.28,224.3V247.32M613.38,224.3H617.18M613.38,247.32H617.18" stroke="#8ce08c" stroke-width="0.9" fill="none"/><path d="M496,231V246.46M494.1,231H497.9M494.1,246.46H497.9" stroke="#de8f97" stroke-width="0.9" fill="none"/><path d="M503.45,208.15V221.89M501.56,208.15H505.35M501.56,221.89H505.35" stroke="#de8f97" stroke-width="0.9" fill="none"/><path d="M518.37,221.89V227.05M516.47,221.89H520.26M516.47,227.05H520.26" stroke="#de8f97" stroke-width="0.9" fill="none"/><path d="M525.82,209.87V221.89M523.92,209.87H527.72M523.92,221.89H527.72" stroke="#de8f97" stroke-width="0.9" fill="none"/><path d="M533.27,212.96V229.11M531.38,212.96H535.17M531.38,229.11H535.17" stroke="#de8f97" stroke-width="0.9" fill="none"/><path d="M540.73,212.1V229.28M538.83,212.1H542.63M538.83,229.28H542.63" stroke="#de8f97" stroke-width="0.9" fill="none"/><path d="M548.18,206.95V220.69M546.28,206.95H550.08M546.28,220.69H550.08" stroke="#de8f97" stroke-width="0.9" fill="none"/><path d="M555.64,218.29V229.28M553.74,218.29H557.54M553.74,229.28H557.54" stroke="#de8f97" stroke-width="0.9" fill="none"/><path d="M563.1,201.79V225.84M561.2,201.79H565M561.2,225.84H565" stroke="#de8f97" stroke-width="0.9" fill="none"/><path d="M570.55,208.15V232.2M568.65,208.15H572.45M568.65,232.2H572.45" stroke="#de8f97" stroke-width="0.9" fill="none"/><path d="M578,198.19V222.58M576.11,198.19H579.9M576.11,222.58H579.9" stroke="#de8f97" stroke-width="0.9" fill="none"/><path d="M585.46,197.33V229.28M583.56,197.33H587.36M583.56,229.28H587.36" stroke="#de8f97" stroke-width="0.9" fill="none"/><path d="M592.91,205.57V222.07M591.01,205.57H594.81M591.01,222.07H594.81" stroke="#de8f97" stroke-width="0.9" fill="none"/><path d="M600.37,202.14V214.51M598.47,202.14H602.27M598.47,214.51H602.27" stroke="#de8f97" stroke-width="0.9" fill="none"/><path d="M607.83,193.37V215.37M605.93,193.37H609.73M605.93,215.37H609.73" stroke="#de8f97" stroke-width="0.9" fill="none"/><path d="M615.28,203.34V214.68M613.38,203.34H617.18M613.38,214.68H617.18" stroke="#de8f97" stroke-width="0.9" fill="none"/><path d="M496,227.91 L503.45,223.96 L518.37,229.28 L525.82,233.06 L533.27,231 L540.73,227.22 L548.18,243.37 L555.64,242.17 L563.1,241.65 L570.55,244.4 L578,247.32 L585.46,246.8 L592.91,252.47 L600.37,245.26 L607.83,249.55 L615.28,235.81" fill="none" stroke="#1a1a1a" stroke-width="1.1" stroke-linejoin="round"/><path d="M496,238.73 L503.45,215.02 L518.37,224.47 L525.82,215.88 L533.27,221.03 L540.73,220.69 L548.18,213.82 L555.64,223.78 L563.1,213.82 L570.55,220.18 L578,210.38 L585.46,213.3 L592.91,213.82 L600.37,208.32 L607.83,204.37 L615.28,209.01" fill="none" stroke="#1a1a1a" stroke-width="1.1" stroke-linejoin="round"/><circle cx="496" cy="227.91" r="2.15" fill="#00ee00"/><circle cx="503.45" cy="223.96" r="2.15" fill="#00ee00"/><circle cx="518.37" cy="229.28" r="2.15" fill="#00ee00"/><circle cx="525.82" cy="233.06" r="2.15" fill="#00ee00"/><circle cx="533.27" cy="231" r="2.15" fill="#00ee00"/><circle cx="540.73" cy="227.22" r="2.15" fill="#00ee00"/><circle cx="548.18" cy="243.37" r="2.15" fill="#00ee00"/><circle cx="555.64" cy="242.17" r="2.15" fill="#00ee00"/><circle cx="563.1" cy="241.65" r="2.15" fill="#00ee00"/><circle cx="570.55" cy="244.4" r="2.15" fill="#00ee00"/><circle cx="578" cy="247.32" r="2.15" fill="#00ee00"/><circle cx="585.46" cy="246.8" r="2.15" fill="#00ee00"/><circle cx="592.91" cy="252.47" r="2.15" fill="#00ee00"/><circle cx="600.37" cy="245.26" r="2.15" fill="#00ee00"/><circle cx="607.83" cy="249.55" r="2.15" fill="#00ee00"/><circle cx="615.28" cy="235.81" r="2.15" fill="#00ee00"/><circle cx="496" cy="238.73" r="2.15" fill="#f00000"/><circle cx="503.45" cy="215.02" r="2.15" fill="#f00000"/><circle cx="518.37" cy="224.47" r="2.15" fill="#f00000"/><circle cx="525.82" cy="215.88" r="2.15" fill="#f00000"/><circle cx="533.27" cy="221.03" r="2.15" fill="#f00000"/><circle cx="540.73" cy="220.69" r="2.15" fill="#f00000"/><circle cx="548.18" cy="213.82" r="2.15" fill="#f00000"/><circle cx="555.64" cy="223.78" r="2.15" fill="#f00000"/><circle cx="563.1" cy="213.82" r="2.15" fill="#f00000"/><circle cx="570.55" cy="220.18" r="2.15" fill="#f00000"/><circle cx="578" cy="210.38" r="2.15" fill="#f00000"/><circle cx="585.46" cy="213.3" r="2.15" fill="#f00000"/><circle cx="592.91" cy="213.82" r="2.15" fill="#f00000"/><circle cx="600.37" cy="208.32" r="2.15" fill="#f00000"/><circle cx="607.83" cy="204.37" r="2.15" fill="#f00000"/><circle cx="615.28" cy="209.01" r="2.15" fill="#f00000"/><polygon points="578,190.45 578.62,192.05 580.34,192.14 579,193.22 579.45,194.88 578,193.95 576.56,194.88 577.01,193.22 575.67,192.14 577.39,192.05" fill="#111"/><polygon points="585.46,190.45 586.08,192.05 587.79,192.14 586.46,193.22 586.9,194.88 585.46,193.95 584.02,194.88 584.46,193.22 583.13,192.14 584.84,192.05" fill="#111"/><polygon points="592.91,196.15 593.53,197.75 595.25,197.84 593.91,198.92 594.36,200.58 592.91,199.65 591.47,200.58 591.92,198.92 590.58,197.84 592.3,197.75" fill="#111"/><polygon points="600.37,192.65 600.99,194.25 602.7,194.34 601.37,195.42 601.81,197.08 600.37,196.15 598.93,197.08 599.37,195.42 598.04,194.34 599.75,194.25" fill="#111"/><polygon points="607.83,186.65 608.44,188.25 610.16,188.34 608.82,189.42 609.27,191.08 607.83,190.15 606.38,191.08 606.83,189.42 605.49,188.34 607.21,188.25" fill="#111"/><line x1="626.5" y1="184.1" x2="636.1" y2="184.1" stroke="#1a1a1a" stroke-width="1.1"/><circle cx="631.3" cy="184.1" r="2" fill="#f00000"/><text x="640.6" y="186.6" font-size="7.2" fill="#333">Propranolol</text><line x1="626.5" y1="195.3" x2="636.1" y2="195.3" stroke="#1a1a1a" stroke-width="1.1"/><circle cx="631.3" cy="195.3" r="2" fill="#00ee00"/><text x="640.6" y="197.8" font-size="7.2" fill="#333">Control</text><text transform="translate(677.7,192.8) scale(0.85,1) skewX(-6)" font-size="10.0" font-weight="bold" fill="#111" stroke="#111" stroke-width="0.35">#</text></g></svg>
</body></html>
